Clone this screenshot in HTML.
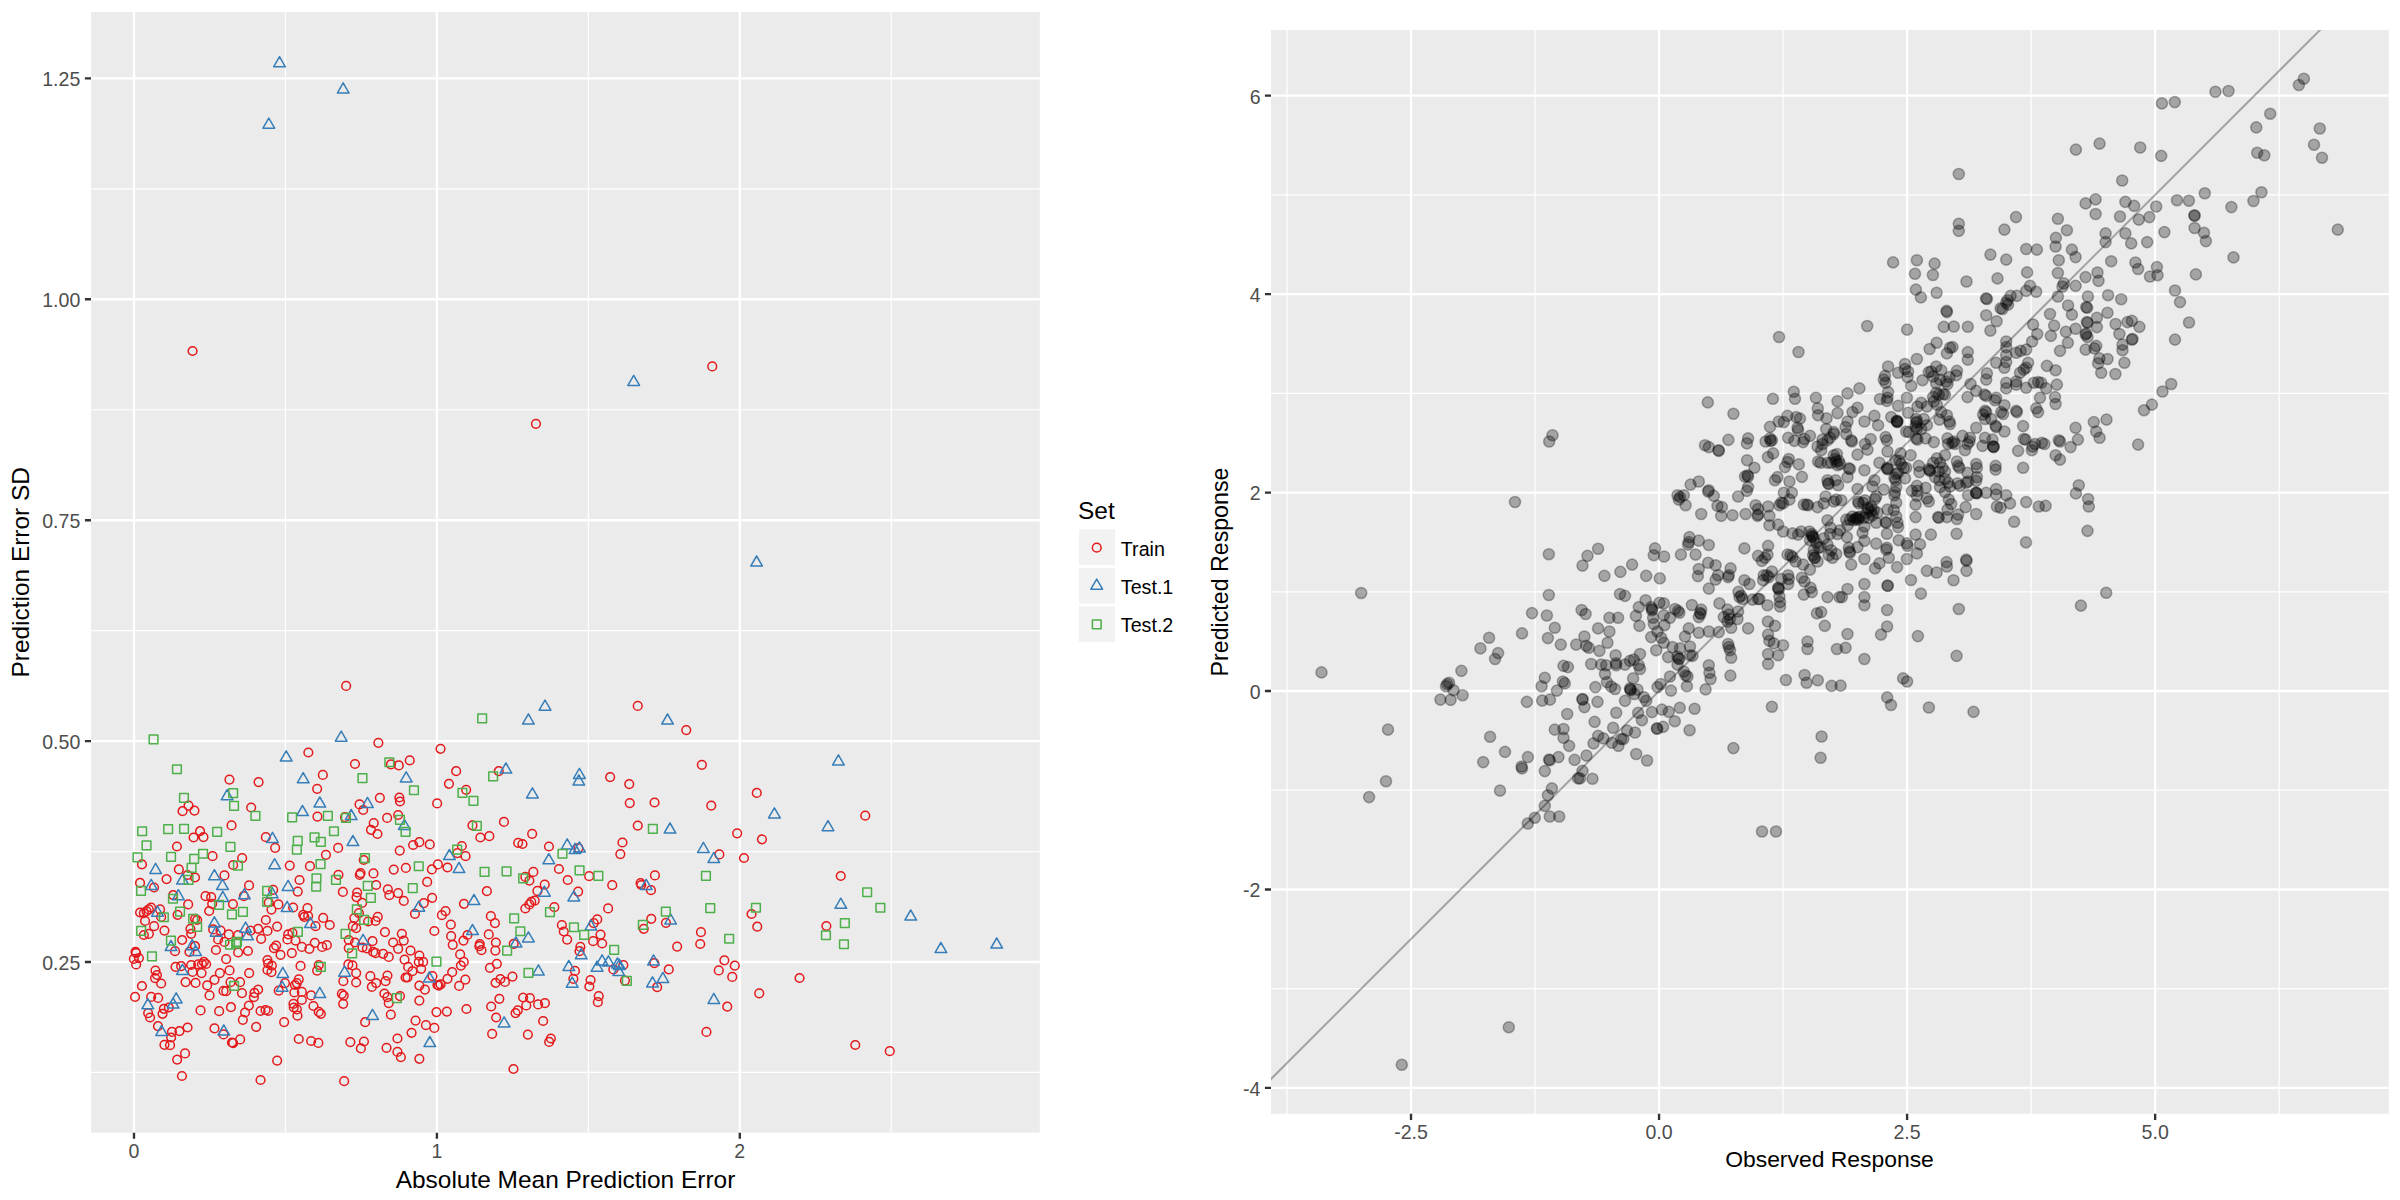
<!DOCTYPE html><html><head><meta charset="utf-8"><style>html,body{margin:0;padding:0;background:#fff}svg{display:block}text{font-family:"Liberation Sans",sans-serif}</style></head><body>
<svg width="2400" height="1200" viewBox="0 0 2400 1200">
<rect width="2400" height="1200" fill="#fff"/>
<rect x="91" y="12.1" width="948.8" height="1120.6000000000001" fill="#EBEBEB"/>
<path d="M285.45 12.1V1132.7M588.35 12.1V1132.7M891.25 12.1V1132.7M91 1072.45H1039.8M91 851.55H1039.8M91 630.65H1039.8M91 409.75H1039.8M91 188.85H1039.8" stroke="#fff" stroke-width="1.2" fill="none"/>
<path d="M134.00 12.1V1132.7M436.90 12.1V1132.7M739.80 12.1V1132.7M91 962.00H1039.8M91 741.10H1039.8M91 520.20H1039.8M91 299.30H1039.8M91 78.40H1039.8" stroke="#fff" stroke-width="2.37" fill="none"/>
<path d="M134.00 1132.7v6.1M436.90 1132.7v6.1M739.80 1132.7v6.1M91 962.00h-6.1M91 741.10h-6.1M91 520.20h-6.1M91 299.30h-6.1M91 78.40h-6.1" stroke="#333" stroke-width="2.37" fill="none"/>
<text x="80.3" y="969.8" font-size="19.56" fill="#4D4D4D" text-anchor="end">0.25</text>
<text x="80.3" y="748.9" font-size="19.56" fill="#4D4D4D" text-anchor="end">0.50</text>
<text x="80.3" y="528.0" font-size="19.56" fill="#4D4D4D" text-anchor="end">0.75</text>
<text x="80.3" y="307.1" font-size="19.56" fill="#4D4D4D" text-anchor="end">1.00</text>
<text x="80.3" y="86.2" font-size="19.56" fill="#4D4D4D" text-anchor="end">1.25</text>
<text x="134.0" y="1158" font-size="19.56" fill="#4D4D4D" text-anchor="middle">0</text>
<text x="436.9" y="1158" font-size="19.56" fill="#4D4D4D" text-anchor="middle">1</text>
<text x="739.8" y="1158" font-size="19.56" fill="#4D4D4D" text-anchor="middle">2</text>
<text x="565.5" y="1187.5" font-size="24.44" fill="#000" text-anchor="middle">Absolute Mean Prediction Error</text>
<text transform="translate(29,572.3) rotate(-90)" font-size="24.44" fill="#000" text-anchor="middle">Prediction Error SD</text>
<clipPath id="cl"><rect x="91" y="12.1" width="948.8" height="1120.6000000000001"/></clipPath>
<g clip-path="url(#cl)" fill="none" stroke-width="1.5" stroke-linejoin="round">
<path stroke="#E41A1C" d="M188.2 351.0a4.35 4.35 0 1 0 8.7 0a4.35 4.35 0 1 0 -8.7 0M531.6 423.8a4.35 4.35 0 1 0 8.7 0a4.35 4.35 0 1 0 -8.7 0M707.9 366.4a4.35 4.35 0 1 0 8.7 0a4.35 4.35 0 1 0 -8.7 0M633.4 705.9a4.35 4.35 0 1 0 8.7 0a4.35 4.35 0 1 0 -8.7 0M681.9 730.1a4.35 4.35 0 1 0 8.7 0a4.35 4.35 0 1 0 -8.7 0M341.8 685.9a4.35 4.35 0 1 0 8.7 0a4.35 4.35 0 1 0 -8.7 0M374.0 742.8a4.35 4.35 0 1 0 8.7 0a4.35 4.35 0 1 0 -8.7 0M304.0 752.5a4.35 4.35 0 1 0 8.7 0a4.35 4.35 0 1 0 -8.7 0M350.6 764.0a4.35 4.35 0 1 0 8.7 0a4.35 4.35 0 1 0 -8.7 0M405.4 760.4a4.35 4.35 0 1 0 8.7 0a4.35 4.35 0 1 0 -8.7 0M386.6 764.4a4.35 4.35 0 1 0 8.7 0a4.35 4.35 0 1 0 -8.7 0M394.4 765.4a4.35 4.35 0 1 0 8.7 0a4.35 4.35 0 1 0 -8.7 0M318.5 774.9a4.35 4.35 0 1 0 8.7 0a4.35 4.35 0 1 0 -8.7 0M225.1 779.6a4.35 4.35 0 1 0 8.7 0a4.35 4.35 0 1 0 -8.7 0M254.2 782.1a4.35 4.35 0 1 0 8.7 0a4.35 4.35 0 1 0 -8.7 0M312.8 788.8a4.35 4.35 0 1 0 8.7 0a4.35 4.35 0 1 0 -8.7 0M375.5 797.8a4.35 4.35 0 1 0 8.7 0a4.35 4.35 0 1 0 -8.7 0M395.0 797.5a4.35 4.35 0 1 0 8.7 0a4.35 4.35 0 1 0 -8.7 0M395.6 801.5a4.35 4.35 0 1 0 8.7 0a4.35 4.35 0 1 0 -8.7 0M355.2 804.4a4.35 4.35 0 1 0 8.7 0a4.35 4.35 0 1 0 -8.7 0M246.8 807.5a4.35 4.35 0 1 0 8.7 0a4.35 4.35 0 1 0 -8.7 0M184.2 805.6a4.35 4.35 0 1 0 8.7 0a4.35 4.35 0 1 0 -8.7 0M178.2 811.2a4.35 4.35 0 1 0 8.7 0a4.35 4.35 0 1 0 -8.7 0M190.1 810.6a4.35 4.35 0 1 0 8.7 0a4.35 4.35 0 1 0 -8.7 0M313.1 816.6a4.35 4.35 0 1 0 8.7 0a4.35 4.35 0 1 0 -8.7 0M340.6 817.2a4.35 4.35 0 1 0 8.7 0a4.35 4.35 0 1 0 -8.7 0M358.8 810.0a4.35 4.35 0 1 0 8.7 0a4.35 4.35 0 1 0 -8.7 0M382.8 817.9a4.35 4.35 0 1 0 8.7 0a4.35 4.35 0 1 0 -8.7 0M393.8 815.0a4.35 4.35 0 1 0 8.7 0a4.35 4.35 0 1 0 -8.7 0M227.2 825.4a4.35 4.35 0 1 0 8.7 0a4.35 4.35 0 1 0 -8.7 0M369.4 823.1a4.35 4.35 0 1 0 8.7 0a4.35 4.35 0 1 0 -8.7 0M195.7 831.2a4.35 4.35 0 1 0 8.7 0a4.35 4.35 0 1 0 -8.7 0M189.2 837.5a4.35 4.35 0 1 0 8.7 0a4.35 4.35 0 1 0 -8.7 0M199.1 837.1a4.35 4.35 0 1 0 8.7 0a4.35 4.35 0 1 0 -8.7 0M261.5 837.2a4.35 4.35 0 1 0 8.7 0a4.35 4.35 0 1 0 -8.7 0M366.6 829.8a4.35 4.35 0 1 0 8.7 0a4.35 4.35 0 1 0 -8.7 0M373.1 834.0a4.35 4.35 0 1 0 8.7 0a4.35 4.35 0 1 0 -8.7 0M172.6 846.5a4.35 4.35 0 1 0 8.7 0a4.35 4.35 0 1 0 -8.7 0M270.8 847.8a4.35 4.35 0 1 0 8.7 0a4.35 4.35 0 1 0 -8.7 0M333.8 847.9a4.35 4.35 0 1 0 8.7 0a4.35 4.35 0 1 0 -8.7 0M408.8 845.0a4.35 4.35 0 1 0 8.7 0a4.35 4.35 0 1 0 -8.7 0M415.0 842.2a4.35 4.35 0 1 0 8.7 0a4.35 4.35 0 1 0 -8.7 0M395.4 850.6a4.35 4.35 0 1 0 8.7 0a4.35 4.35 0 1 0 -8.7 0M208.2 856.2a4.35 4.35 0 1 0 8.7 0a4.35 4.35 0 1 0 -8.7 0M237.8 858.1a4.35 4.35 0 1 0 8.7 0a4.35 4.35 0 1 0 -8.7 0M321.6 854.8a4.35 4.35 0 1 0 8.7 0a4.35 4.35 0 1 0 -8.7 0M359.4 860.0a4.35 4.35 0 1 0 8.7 0a4.35 4.35 0 1 0 -8.7 0M137.6 864.4a4.35 4.35 0 1 0 8.7 0a4.35 4.35 0 1 0 -8.7 0M228.8 865.0a4.35 4.35 0 1 0 8.7 0a4.35 4.35 0 1 0 -8.7 0M285.4 865.6a4.35 4.35 0 1 0 8.7 0a4.35 4.35 0 1 0 -8.7 0M305.6 866.2a4.35 4.35 0 1 0 8.7 0a4.35 4.35 0 1 0 -8.7 0M174.5 869.4a4.35 4.35 0 1 0 8.7 0a4.35 4.35 0 1 0 -8.7 0M389.4 869.6a4.35 4.35 0 1 0 8.7 0a4.35 4.35 0 1 0 -8.7 0M401.5 867.9a4.35 4.35 0 1 0 8.7 0a4.35 4.35 0 1 0 -8.7 0M220.1 875.4a4.35 4.35 0 1 0 8.7 0a4.35 4.35 0 1 0 -8.7 0M334.1 874.8a4.35 4.35 0 1 0 8.7 0a4.35 4.35 0 1 0 -8.7 0M369.1 873.4a4.35 4.35 0 1 0 8.7 0a4.35 4.35 0 1 0 -8.7 0M356.2 873.1a4.35 4.35 0 1 0 8.7 0a4.35 4.35 0 1 0 -8.7 0M355.4 874.8a4.35 4.35 0 1 0 8.7 0a4.35 4.35 0 1 0 -8.7 0M190.7 877.5a4.35 4.35 0 1 0 8.7 0a4.35 4.35 0 1 0 -8.7 0M162.2 879.1a4.35 4.35 0 1 0 8.7 0a4.35 4.35 0 1 0 -8.7 0M183.2 875.0a4.35 4.35 0 1 0 8.7 0a4.35 4.35 0 1 0 -8.7 0M135.7 882.9a4.35 4.35 0 1 0 8.7 0a4.35 4.35 0 1 0 -8.7 0M295.2 880.0a4.35 4.35 0 1 0 8.7 0a4.35 4.35 0 1 0 -8.7 0M244.7 885.4a4.35 4.35 0 1 0 8.7 0a4.35 4.35 0 1 0 -8.7 0M149.7 887.5a4.35 4.35 0 1 0 8.7 0a4.35 4.35 0 1 0 -8.7 0M371.8 885.0a4.35 4.35 0 1 0 8.7 0a4.35 4.35 0 1 0 -8.7 0M268.8 889.8a4.35 4.35 0 1 0 8.7 0a4.35 4.35 0 1 0 -8.7 0M293.4 891.6a4.35 4.35 0 1 0 8.7 0a4.35 4.35 0 1 0 -8.7 0M338.5 891.9a4.35 4.35 0 1 0 8.7 0a4.35 4.35 0 1 0 -8.7 0M383.5 889.4a4.35 4.35 0 1 0 8.7 0a4.35 4.35 0 1 0 -8.7 0M352.8 892.5a4.35 4.35 0 1 0 8.7 0a4.35 4.35 0 1 0 -8.7 0M393.8 893.1a4.35 4.35 0 1 0 8.7 0a4.35 4.35 0 1 0 -8.7 0M168.8 895.2a4.35 4.35 0 1 0 8.7 0a4.35 4.35 0 1 0 -8.7 0M201.2 896.2a4.35 4.35 0 1 0 8.7 0a4.35 4.35 0 1 0 -8.7 0M206.8 897.2a4.35 4.35 0 1 0 8.7 0a4.35 4.35 0 1 0 -8.7 0M239.5 896.2a4.35 4.35 0 1 0 8.7 0a4.35 4.35 0 1 0 -8.7 0M352.2 897.2a4.35 4.35 0 1 0 8.7 0a4.35 4.35 0 1 0 -8.7 0M385.0 895.2a4.35 4.35 0 1 0 8.7 0a4.35 4.35 0 1 0 -8.7 0M399.4 900.9a4.35 4.35 0 1 0 8.7 0a4.35 4.35 0 1 0 -8.7 0M183.8 904.4a4.35 4.35 0 1 0 8.7 0a4.35 4.35 0 1 0 -8.7 0M207.8 903.8a4.35 4.35 0 1 0 8.7 0a4.35 4.35 0 1 0 -8.7 0M228.6 904.1a4.35 4.35 0 1 0 8.7 0a4.35 4.35 0 1 0 -8.7 0M264.4 902.5a4.35 4.35 0 1 0 8.7 0a4.35 4.35 0 1 0 -8.7 0M274.1 904.4a4.35 4.35 0 1 0 8.7 0a4.35 4.35 0 1 0 -8.7 0M267.1 909.6a4.35 4.35 0 1 0 8.7 0a4.35 4.35 0 1 0 -8.7 0M288.8 907.5a4.35 4.35 0 1 0 8.7 0a4.35 4.35 0 1 0 -8.7 0M303.1 908.1a4.35 4.35 0 1 0 8.7 0a4.35 4.35 0 1 0 -8.7 0M357.8 902.8a4.35 4.35 0 1 0 8.7 0a4.35 4.35 0 1 0 -8.7 0M204.8 911.0a4.35 4.35 0 1 0 8.7 0a4.35 4.35 0 1 0 -8.7 0M146.8 907.5a4.35 4.35 0 1 0 8.7 0a4.35 4.35 0 1 0 -8.7 0M155.7 909.4a4.35 4.35 0 1 0 8.7 0a4.35 4.35 0 1 0 -8.7 0M144.5 909.4a4.35 4.35 0 1 0 8.7 0a4.35 4.35 0 1 0 -8.7 0M142.2 911.2a4.35 4.35 0 1 0 8.7 0a4.35 4.35 0 1 0 -8.7 0M135.7 912.5a4.35 4.35 0 1 0 8.7 0a4.35 4.35 0 1 0 -8.7 0M139.5 913.1a4.35 4.35 0 1 0 8.7 0a4.35 4.35 0 1 0 -8.7 0M354.6 913.1a4.35 4.35 0 1 0 8.7 0a4.35 4.35 0 1 0 -8.7 0M410.6 913.8a4.35 4.35 0 1 0 8.7 0a4.35 4.35 0 1 0 -8.7 0M173.2 914.8a4.35 4.35 0 1 0 8.7 0a4.35 4.35 0 1 0 -8.7 0M156.8 916.9a4.35 4.35 0 1 0 8.7 0a4.35 4.35 0 1 0 -8.7 0M140.7 920.9a4.35 4.35 0 1 0 8.7 0a4.35 4.35 0 1 0 -8.7 0M190.7 918.8a4.35 4.35 0 1 0 8.7 0a4.35 4.35 0 1 0 -8.7 0M192.8 920.0a4.35 4.35 0 1 0 8.7 0a4.35 4.35 0 1 0 -8.7 0M261.5 920.0a4.35 4.35 0 1 0 8.7 0a4.35 4.35 0 1 0 -8.7 0M298.8 914.8a4.35 4.35 0 1 0 8.7 0a4.35 4.35 0 1 0 -8.7 0M303.8 916.0a4.35 4.35 0 1 0 8.7 0a4.35 4.35 0 1 0 -8.7 0M300.0 916.9a4.35 4.35 0 1 0 8.7 0a4.35 4.35 0 1 0 -8.7 0M318.8 917.9a4.35 4.35 0 1 0 8.7 0a4.35 4.35 0 1 0 -8.7 0M350.0 918.1a4.35 4.35 0 1 0 8.7 0a4.35 4.35 0 1 0 -8.7 0M373.4 916.9a4.35 4.35 0 1 0 8.7 0a4.35 4.35 0 1 0 -8.7 0M371.2 921.0a4.35 4.35 0 1 0 8.7 0a4.35 4.35 0 1 0 -8.7 0M363.8 921.5a4.35 4.35 0 1 0 8.7 0a4.35 4.35 0 1 0 -8.7 0M149.8 926.2a4.35 4.35 0 1 0 8.7 0a4.35 4.35 0 1 0 -8.7 0M272.8 926.6a4.35 4.35 0 1 0 8.7 0a4.35 4.35 0 1 0 -8.7 0M325.4 925.0a4.35 4.35 0 1 0 8.7 0a4.35 4.35 0 1 0 -8.7 0M311.2 926.2a4.35 4.35 0 1 0 8.7 0a4.35 4.35 0 1 0 -8.7 0M348.5 926.2a4.35 4.35 0 1 0 8.7 0a4.35 4.35 0 1 0 -8.7 0M351.8 928.1a4.35 4.35 0 1 0 8.7 0a4.35 4.35 0 1 0 -8.7 0M160.1 930.6a4.35 4.35 0 1 0 8.7 0a4.35 4.35 0 1 0 -8.7 0M186.1 928.8a4.35 4.35 0 1 0 8.7 0a4.35 4.35 0 1 0 -8.7 0M186.8 933.8a4.35 4.35 0 1 0 8.7 0a4.35 4.35 0 1 0 -8.7 0M208.8 929.4a4.35 4.35 0 1 0 8.7 0a4.35 4.35 0 1 0 -8.7 0M216.2 930.6a4.35 4.35 0 1 0 8.7 0a4.35 4.35 0 1 0 -8.7 0M253.8 928.8a4.35 4.35 0 1 0 8.7 0a4.35 4.35 0 1 0 -8.7 0M246.2 930.6a4.35 4.35 0 1 0 8.7 0a4.35 4.35 0 1 0 -8.7 0M263.1 930.9a4.35 4.35 0 1 0 8.7 0a4.35 4.35 0 1 0 -8.7 0M224.5 934.4a4.35 4.35 0 1 0 8.7 0a4.35 4.35 0 1 0 -8.7 0M233.8 935.0a4.35 4.35 0 1 0 8.7 0a4.35 4.35 0 1 0 -8.7 0M283.8 934.4a4.35 4.35 0 1 0 8.7 0a4.35 4.35 0 1 0 -8.7 0M288.1 932.8a4.35 4.35 0 1 0 8.7 0a4.35 4.35 0 1 0 -8.7 0M380.6 932.1a4.35 4.35 0 1 0 8.7 0a4.35 4.35 0 1 0 -8.7 0M397.5 933.8a4.35 4.35 0 1 0 8.7 0a4.35 4.35 0 1 0 -8.7 0M144.5 933.8a4.35 4.35 0 1 0 8.7 0a4.35 4.35 0 1 0 -8.7 0M139.5 935.0a4.35 4.35 0 1 0 8.7 0a4.35 4.35 0 1 0 -8.7 0M177.8 940.0a4.35 4.35 0 1 0 8.7 0a4.35 4.35 0 1 0 -8.7 0M190.7 946.2a4.35 4.35 0 1 0 8.7 0a4.35 4.35 0 1 0 -8.7 0M170.7 951.2a4.35 4.35 0 1 0 8.7 0a4.35 4.35 0 1 0 -8.7 0M185.1 951.9a4.35 4.35 0 1 0 8.7 0a4.35 4.35 0 1 0 -8.7 0M211.6 950.0a4.35 4.35 0 1 0 8.7 0a4.35 4.35 0 1 0 -8.7 0M213.8 939.4a4.35 4.35 0 1 0 8.7 0a4.35 4.35 0 1 0 -8.7 0M220.1 941.9a4.35 4.35 0 1 0 8.7 0a4.35 4.35 0 1 0 -8.7 0M256.8 938.8a4.35 4.35 0 1 0 8.7 0a4.35 4.35 0 1 0 -8.7 0M243.6 951.0a4.35 4.35 0 1 0 8.7 0a4.35 4.35 0 1 0 -8.7 0M233.8 952.5a4.35 4.35 0 1 0 8.7 0a4.35 4.35 0 1 0 -8.7 0M271.8 945.6a4.35 4.35 0 1 0 8.7 0a4.35 4.35 0 1 0 -8.7 0M269.6 948.1a4.35 4.35 0 1 0 8.7 0a4.35 4.35 0 1 0 -8.7 0M276.2 954.8a4.35 4.35 0 1 0 8.7 0a4.35 4.35 0 1 0 -8.7 0M283.1 939.4a4.35 4.35 0 1 0 8.7 0a4.35 4.35 0 1 0 -8.7 0M291.2 940.6a4.35 4.35 0 1 0 8.7 0a4.35 4.35 0 1 0 -8.7 0M287.5 953.1a4.35 4.35 0 1 0 8.7 0a4.35 4.35 0 1 0 -8.7 0M297.5 946.9a4.35 4.35 0 1 0 8.7 0a4.35 4.35 0 1 0 -8.7 0M305.0 948.8a4.35 4.35 0 1 0 8.7 0a4.35 4.35 0 1 0 -8.7 0M310.4 942.8a4.35 4.35 0 1 0 8.7 0a4.35 4.35 0 1 0 -8.7 0M317.8 946.9a4.35 4.35 0 1 0 8.7 0a4.35 4.35 0 1 0 -8.7 0M322.5 945.2a4.35 4.35 0 1 0 8.7 0a4.35 4.35 0 1 0 -8.7 0M344.4 940.0a4.35 4.35 0 1 0 8.7 0a4.35 4.35 0 1 0 -8.7 0M350.6 942.5a4.35 4.35 0 1 0 8.7 0a4.35 4.35 0 1 0 -8.7 0M344.4 948.1a4.35 4.35 0 1 0 8.7 0a4.35 4.35 0 1 0 -8.7 0M358.1 947.5a4.35 4.35 0 1 0 8.7 0a4.35 4.35 0 1 0 -8.7 0M362.5 948.5a4.35 4.35 0 1 0 8.7 0a4.35 4.35 0 1 0 -8.7 0M368.1 941.2a4.35 4.35 0 1 0 8.7 0a4.35 4.35 0 1 0 -8.7 0M368.8 951.9a4.35 4.35 0 1 0 8.7 0a4.35 4.35 0 1 0 -8.7 0M371.2 953.1a4.35 4.35 0 1 0 8.7 0a4.35 4.35 0 1 0 -8.7 0M378.8 953.8a4.35 4.35 0 1 0 8.7 0a4.35 4.35 0 1 0 -8.7 0M384.4 956.9a4.35 4.35 0 1 0 8.7 0a4.35 4.35 0 1 0 -8.7 0M388.8 942.5a4.35 4.35 0 1 0 8.7 0a4.35 4.35 0 1 0 -8.7 0M399.4 940.6a4.35 4.35 0 1 0 8.7 0a4.35 4.35 0 1 0 -8.7 0M393.8 948.8a4.35 4.35 0 1 0 8.7 0a4.35 4.35 0 1 0 -8.7 0M406.2 950.6a4.35 4.35 0 1 0 8.7 0a4.35 4.35 0 1 0 -8.7 0M131.2 951.9a4.35 4.35 0 1 0 8.7 0a4.35 4.35 0 1 0 -8.7 0M131.8 953.1a4.35 4.35 0 1 0 8.7 0a4.35 4.35 0 1 0 -8.7 0M134.5 958.1a4.35 4.35 0 1 0 8.7 0a4.35 4.35 0 1 0 -8.7 0M129.5 958.8a4.35 4.35 0 1 0 8.7 0a4.35 4.35 0 1 0 -8.7 0M131.8 964.4a4.35 4.35 0 1 0 8.7 0a4.35 4.35 0 1 0 -8.7 0M221.8 959.1a4.35 4.35 0 1 0 8.7 0a4.35 4.35 0 1 0 -8.7 0M263.1 960.0a4.35 4.35 0 1 0 8.7 0a4.35 4.35 0 1 0 -8.7 0M263.8 963.5a4.35 4.35 0 1 0 8.7 0a4.35 4.35 0 1 0 -8.7 0M267.5 965.6a4.35 4.35 0 1 0 8.7 0a4.35 4.35 0 1 0 -8.7 0M296.2 965.9a4.35 4.35 0 1 0 8.7 0a4.35 4.35 0 1 0 -8.7 0M314.4 965.0a4.35 4.35 0 1 0 8.7 0a4.35 4.35 0 1 0 -8.7 0M344.0 964.4a4.35 4.35 0 1 0 8.7 0a4.35 4.35 0 1 0 -8.7 0M348.1 965.4a4.35 4.35 0 1 0 8.7 0a4.35 4.35 0 1 0 -8.7 0M400.2 959.6a4.35 4.35 0 1 0 8.7 0a4.35 4.35 0 1 0 -8.7 0M403.8 966.9a4.35 4.35 0 1 0 8.7 0a4.35 4.35 0 1 0 -8.7 0M415.0 955.6a4.35 4.35 0 1 0 8.7 0a4.35 4.35 0 1 0 -8.7 0M414.4 961.9a4.35 4.35 0 1 0 8.7 0a4.35 4.35 0 1 0 -8.7 0M199.5 961.9a4.35 4.35 0 1 0 8.7 0a4.35 4.35 0 1 0 -8.7 0M201.8 964.0a4.35 4.35 0 1 0 8.7 0a4.35 4.35 0 1 0 -8.7 0M197.6 964.0a4.35 4.35 0 1 0 8.7 0a4.35 4.35 0 1 0 -8.7 0M193.8 964.4a4.35 4.35 0 1 0 8.7 0a4.35 4.35 0 1 0 -8.7 0M186.8 965.0a4.35 4.35 0 1 0 8.7 0a4.35 4.35 0 1 0 -8.7 0M171.2 966.9a4.35 4.35 0 1 0 8.7 0a4.35 4.35 0 1 0 -8.7 0M176.8 966.2a4.35 4.35 0 1 0 8.7 0a4.35 4.35 0 1 0 -8.7 0M151.1 970.6a4.35 4.35 0 1 0 8.7 0a4.35 4.35 0 1 0 -8.7 0M152.6 975.0a4.35 4.35 0 1 0 8.7 0a4.35 4.35 0 1 0 -8.7 0M150.7 978.1a4.35 4.35 0 1 0 8.7 0a4.35 4.35 0 1 0 -8.7 0M156.8 983.5a4.35 4.35 0 1 0 8.7 0a4.35 4.35 0 1 0 -8.7 0M137.6 986.0a4.35 4.35 0 1 0 8.7 0a4.35 4.35 0 1 0 -8.7 0M188.2 971.9a4.35 4.35 0 1 0 8.7 0a4.35 4.35 0 1 0 -8.7 0M197.2 973.1a4.35 4.35 0 1 0 8.7 0a4.35 4.35 0 1 0 -8.7 0M181.2 982.1a4.35 4.35 0 1 0 8.7 0a4.35 4.35 0 1 0 -8.7 0M191.2 982.9a4.35 4.35 0 1 0 8.7 0a4.35 4.35 0 1 0 -8.7 0M202.8 985.4a4.35 4.35 0 1 0 8.7 0a4.35 4.35 0 1 0 -8.7 0M210.1 979.8a4.35 4.35 0 1 0 8.7 0a4.35 4.35 0 1 0 -8.7 0M215.5 973.1a4.35 4.35 0 1 0 8.7 0a4.35 4.35 0 1 0 -8.7 0M225.2 970.4a4.35 4.35 0 1 0 8.7 0a4.35 4.35 0 1 0 -8.7 0M244.8 973.1a4.35 4.35 0 1 0 8.7 0a4.35 4.35 0 1 0 -8.7 0M226.2 982.2a4.35 4.35 0 1 0 8.7 0a4.35 4.35 0 1 0 -8.7 0M235.7 982.2a4.35 4.35 0 1 0 8.7 0a4.35 4.35 0 1 0 -8.7 0M263.1 970.0a4.35 4.35 0 1 0 8.7 0a4.35 4.35 0 1 0 -8.7 0M267.1 972.2a4.35 4.35 0 1 0 8.7 0a4.35 4.35 0 1 0 -8.7 0M280.6 983.1a4.35 4.35 0 1 0 8.7 0a4.35 4.35 0 1 0 -8.7 0M294.4 979.4a4.35 4.35 0 1 0 8.7 0a4.35 4.35 0 1 0 -8.7 0M292.5 983.1a4.35 4.35 0 1 0 8.7 0a4.35 4.35 0 1 0 -8.7 0M290.6 985.0a4.35 4.35 0 1 0 8.7 0a4.35 4.35 0 1 0 -8.7 0M312.8 970.6a4.35 4.35 0 1 0 8.7 0a4.35 4.35 0 1 0 -8.7 0M351.8 973.1a4.35 4.35 0 1 0 8.7 0a4.35 4.35 0 1 0 -8.7 0M339.0 981.2a4.35 4.35 0 1 0 8.7 0a4.35 4.35 0 1 0 -8.7 0M351.8 982.5a4.35 4.35 0 1 0 8.7 0a4.35 4.35 0 1 0 -8.7 0M366.0 976.2a4.35 4.35 0 1 0 8.7 0a4.35 4.35 0 1 0 -8.7 0M371.8 983.1a4.35 4.35 0 1 0 8.7 0a4.35 4.35 0 1 0 -8.7 0M367.5 986.9a4.35 4.35 0 1 0 8.7 0a4.35 4.35 0 1 0 -8.7 0M383.1 975.6a4.35 4.35 0 1 0 8.7 0a4.35 4.35 0 1 0 -8.7 0M381.2 981.2a4.35 4.35 0 1 0 8.7 0a4.35 4.35 0 1 0 -8.7 0M401.2 977.5a4.35 4.35 0 1 0 8.7 0a4.35 4.35 0 1 0 -8.7 0M403.1 977.5a4.35 4.35 0 1 0 8.7 0a4.35 4.35 0 1 0 -8.7 0M408.1 971.2a4.35 4.35 0 1 0 8.7 0a4.35 4.35 0 1 0 -8.7 0M219.2 990.9a4.35 4.35 0 1 0 8.7 0a4.35 4.35 0 1 0 -8.7 0M221.8 991.2a4.35 4.35 0 1 0 8.7 0a4.35 4.35 0 1 0 -8.7 0M237.6 993.1a4.35 4.35 0 1 0 8.7 0a4.35 4.35 0 1 0 -8.7 0M253.8 989.6a4.35 4.35 0 1 0 8.7 0a4.35 4.35 0 1 0 -8.7 0M250.1 992.8a4.35 4.35 0 1 0 8.7 0a4.35 4.35 0 1 0 -8.7 0M249.5 997.2a4.35 4.35 0 1 0 8.7 0a4.35 4.35 0 1 0 -8.7 0M205.2 995.4a4.35 4.35 0 1 0 8.7 0a4.35 4.35 0 1 0 -8.7 0M130.7 996.9a4.35 4.35 0 1 0 8.7 0a4.35 4.35 0 1 0 -8.7 0M146.8 996.9a4.35 4.35 0 1 0 8.7 0a4.35 4.35 0 1 0 -8.7 0M153.8 997.9a4.35 4.35 0 1 0 8.7 0a4.35 4.35 0 1 0 -8.7 0M274.4 990.6a4.35 4.35 0 1 0 8.7 0a4.35 4.35 0 1 0 -8.7 0M290.0 992.5a4.35 4.35 0 1 0 8.7 0a4.35 4.35 0 1 0 -8.7 0M297.5 991.9a4.35 4.35 0 1 0 8.7 0a4.35 4.35 0 1 0 -8.7 0M306.8 995.4a4.35 4.35 0 1 0 8.7 0a4.35 4.35 0 1 0 -8.7 0M297.5 1000.0a4.35 4.35 0 1 0 8.7 0a4.35 4.35 0 1 0 -8.7 0M289.1 1003.8a4.35 4.35 0 1 0 8.7 0a4.35 4.35 0 1 0 -8.7 0M337.5 993.8a4.35 4.35 0 1 0 8.7 0a4.35 4.35 0 1 0 -8.7 0M339.4 995.6a4.35 4.35 0 1 0 8.7 0a4.35 4.35 0 1 0 -8.7 0M338.8 1003.8a4.35 4.35 0 1 0 8.7 0a4.35 4.35 0 1 0 -8.7 0M380.0 993.5a4.35 4.35 0 1 0 8.7 0a4.35 4.35 0 1 0 -8.7 0M383.1 997.2a4.35 4.35 0 1 0 8.7 0a4.35 4.35 0 1 0 -8.7 0M384.4 1003.1a4.35 4.35 0 1 0 8.7 0a4.35 4.35 0 1 0 -8.7 0M395.6 996.2a4.35 4.35 0 1 0 8.7 0a4.35 4.35 0 1 0 -8.7 0M415.0 985.6a4.35 4.35 0 1 0 8.7 0a4.35 4.35 0 1 0 -8.7 0M415.0 1000.6a4.35 4.35 0 1 0 8.7 0a4.35 4.35 0 1 0 -8.7 0M159.5 1008.8a4.35 4.35 0 1 0 8.7 0a4.35 4.35 0 1 0 -8.7 0M164.5 1007.5a4.35 4.35 0 1 0 8.7 0a4.35 4.35 0 1 0 -8.7 0M158.2 1013.8a4.35 4.35 0 1 0 8.7 0a4.35 4.35 0 1 0 -8.7 0M143.8 1013.1a4.35 4.35 0 1 0 8.7 0a4.35 4.35 0 1 0 -8.7 0M145.7 1017.5a4.35 4.35 0 1 0 8.7 0a4.35 4.35 0 1 0 -8.7 0M196.2 1010.4a4.35 4.35 0 1 0 8.7 0a4.35 4.35 0 1 0 -8.7 0M214.8 1011.2a4.35 4.35 0 1 0 8.7 0a4.35 4.35 0 1 0 -8.7 0M226.6 1007.2a4.35 4.35 0 1 0 8.7 0a4.35 4.35 0 1 0 -8.7 0M244.5 1005.6a4.35 4.35 0 1 0 8.7 0a4.35 4.35 0 1 0 -8.7 0M240.7 1012.5a4.35 4.35 0 1 0 8.7 0a4.35 4.35 0 1 0 -8.7 0M238.5 1019.8a4.35 4.35 0 1 0 8.7 0a4.35 4.35 0 1 0 -8.7 0M256.2 1011.0a4.35 4.35 0 1 0 8.7 0a4.35 4.35 0 1 0 -8.7 0M261.2 1010.0a4.35 4.35 0 1 0 8.7 0a4.35 4.35 0 1 0 -8.7 0M263.8 1011.0a4.35 4.35 0 1 0 8.7 0a4.35 4.35 0 1 0 -8.7 0M289.4 1007.5a4.35 4.35 0 1 0 8.7 0a4.35 4.35 0 1 0 -8.7 0M292.5 1009.4a4.35 4.35 0 1 0 8.7 0a4.35 4.35 0 1 0 -8.7 0M293.1 1015.6a4.35 4.35 0 1 0 8.7 0a4.35 4.35 0 1 0 -8.7 0M309.1 1006.0a4.35 4.35 0 1 0 8.7 0a4.35 4.35 0 1 0 -8.7 0M314.4 1011.9a4.35 4.35 0 1 0 8.7 0a4.35 4.35 0 1 0 -8.7 0M316.5 1013.8a4.35 4.35 0 1 0 8.7 0a4.35 4.35 0 1 0 -8.7 0M279.8 1022.1a4.35 4.35 0 1 0 8.7 0a4.35 4.35 0 1 0 -8.7 0M386.5 1014.6a4.35 4.35 0 1 0 8.7 0a4.35 4.35 0 1 0 -8.7 0M360.8 1022.2a4.35 4.35 0 1 0 8.7 0a4.35 4.35 0 1 0 -8.7 0M411.2 1020.6a4.35 4.35 0 1 0 8.7 0a4.35 4.35 0 1 0 -8.7 0M153.6 1026.2a4.35 4.35 0 1 0 8.7 0a4.35 4.35 0 1 0 -8.7 0M183.2 1027.5a4.35 4.35 0 1 0 8.7 0a4.35 4.35 0 1 0 -8.7 0M175.1 1031.2a4.35 4.35 0 1 0 8.7 0a4.35 4.35 0 1 0 -8.7 0M167.6 1031.9a4.35 4.35 0 1 0 8.7 0a4.35 4.35 0 1 0 -8.7 0M166.8 1037.5a4.35 4.35 0 1 0 8.7 0a4.35 4.35 0 1 0 -8.7 0M210.1 1028.4a4.35 4.35 0 1 0 8.7 0a4.35 4.35 0 1 0 -8.7 0M219.2 1034.4a4.35 4.35 0 1 0 8.7 0a4.35 4.35 0 1 0 -8.7 0M251.8 1026.9a4.35 4.35 0 1 0 8.7 0a4.35 4.35 0 1 0 -8.7 0M235.8 1039.4a4.35 4.35 0 1 0 8.7 0a4.35 4.35 0 1 0 -8.7 0M227.6 1042.5a4.35 4.35 0 1 0 8.7 0a4.35 4.35 0 1 0 -8.7 0M228.8 1043.1a4.35 4.35 0 1 0 8.7 0a4.35 4.35 0 1 0 -8.7 0M160.1 1044.8a4.35 4.35 0 1 0 8.7 0a4.35 4.35 0 1 0 -8.7 0M165.7 1045.2a4.35 4.35 0 1 0 8.7 0a4.35 4.35 0 1 0 -8.7 0M294.4 1039.0a4.35 4.35 0 1 0 8.7 0a4.35 4.35 0 1 0 -8.7 0M306.8 1041.0a4.35 4.35 0 1 0 8.7 0a4.35 4.35 0 1 0 -8.7 0M314.0 1042.9a4.35 4.35 0 1 0 8.7 0a4.35 4.35 0 1 0 -8.7 0M346.0 1042.1a4.35 4.35 0 1 0 8.7 0a4.35 4.35 0 1 0 -8.7 0M359.6 1041.5a4.35 4.35 0 1 0 8.7 0a4.35 4.35 0 1 0 -8.7 0M356.5 1048.4a4.35 4.35 0 1 0 8.7 0a4.35 4.35 0 1 0 -8.7 0M382.2 1047.8a4.35 4.35 0 1 0 8.7 0a4.35 4.35 0 1 0 -8.7 0M393.1 1038.5a4.35 4.35 0 1 0 8.7 0a4.35 4.35 0 1 0 -8.7 0M407.2 1032.8a4.35 4.35 0 1 0 8.7 0a4.35 4.35 0 1 0 -8.7 0M393.1 1051.9a4.35 4.35 0 1 0 8.7 0a4.35 4.35 0 1 0 -8.7 0M180.7 1053.4a4.35 4.35 0 1 0 8.7 0a4.35 4.35 0 1 0 -8.7 0M172.8 1059.6a4.35 4.35 0 1 0 8.7 0a4.35 4.35 0 1 0 -8.7 0M272.8 1060.6a4.35 4.35 0 1 0 8.7 0a4.35 4.35 0 1 0 -8.7 0M396.5 1057.2a4.35 4.35 0 1 0 8.7 0a4.35 4.35 0 1 0 -8.7 0M415.0 1058.8a4.35 4.35 0 1 0 8.7 0a4.35 4.35 0 1 0 -8.7 0M177.6 1076.0a4.35 4.35 0 1 0 8.7 0a4.35 4.35 0 1 0 -8.7 0M256.2 1080.0a4.35 4.35 0 1 0 8.7 0a4.35 4.35 0 1 0 -8.7 0M339.8 1081.2a4.35 4.35 0 1 0 8.7 0a4.35 4.35 0 1 0 -8.7 0M436.2 748.8a4.35 4.35 0 1 0 8.7 0a4.35 4.35 0 1 0 -8.7 0M451.8 771.2a4.35 4.35 0 1 0 8.7 0a4.35 4.35 0 1 0 -8.7 0M494.4 771.2a4.35 4.35 0 1 0 8.7 0a4.35 4.35 0 1 0 -8.7 0M444.6 783.8a4.35 4.35 0 1 0 8.7 0a4.35 4.35 0 1 0 -8.7 0M461.8 789.8a4.35 4.35 0 1 0 8.7 0a4.35 4.35 0 1 0 -8.7 0M432.8 803.4a4.35 4.35 0 1 0 8.7 0a4.35 4.35 0 1 0 -8.7 0M605.8 777.1a4.35 4.35 0 1 0 8.7 0a4.35 4.35 0 1 0 -8.7 0M624.9 784.1a4.35 4.35 0 1 0 8.7 0a4.35 4.35 0 1 0 -8.7 0M697.5 764.8a4.35 4.35 0 1 0 8.7 0a4.35 4.35 0 1 0 -8.7 0M625.4 803.1a4.35 4.35 0 1 0 8.7 0a4.35 4.35 0 1 0 -8.7 0M650.2 802.5a4.35 4.35 0 1 0 8.7 0a4.35 4.35 0 1 0 -8.7 0M706.9 805.6a4.35 4.35 0 1 0 8.7 0a4.35 4.35 0 1 0 -8.7 0M499.6 821.9a4.35 4.35 0 1 0 8.7 0a4.35 4.35 0 1 0 -8.7 0M468.1 825.4a4.35 4.35 0 1 0 8.7 0a4.35 4.35 0 1 0 -8.7 0M476.0 837.5a4.35 4.35 0 1 0 8.7 0a4.35 4.35 0 1 0 -8.7 0M485.0 836.2a4.35 4.35 0 1 0 8.7 0a4.35 4.35 0 1 0 -8.7 0M527.8 833.8a4.35 4.35 0 1 0 8.7 0a4.35 4.35 0 1 0 -8.7 0M633.4 825.6a4.35 4.35 0 1 0 8.7 0a4.35 4.35 0 1 0 -8.7 0M618.1 842.5a4.35 4.35 0 1 0 8.7 0a4.35 4.35 0 1 0 -8.7 0M513.8 842.8a4.35 4.35 0 1 0 8.7 0a4.35 4.35 0 1 0 -8.7 0M518.1 844.0a4.35 4.35 0 1 0 8.7 0a4.35 4.35 0 1 0 -8.7 0M544.6 846.5a4.35 4.35 0 1 0 8.7 0a4.35 4.35 0 1 0 -8.7 0M425.4 844.4a4.35 4.35 0 1 0 8.7 0a4.35 4.35 0 1 0 -8.7 0M457.5 846.0a4.35 4.35 0 1 0 8.7 0a4.35 4.35 0 1 0 -8.7 0M453.1 853.1a4.35 4.35 0 1 0 8.7 0a4.35 4.35 0 1 0 -8.7 0M461.2 856.2a4.35 4.35 0 1 0 8.7 0a4.35 4.35 0 1 0 -8.7 0M574.1 848.1a4.35 4.35 0 1 0 8.7 0a4.35 4.35 0 1 0 -8.7 0M616.0 854.1a4.35 4.35 0 1 0 8.7 0a4.35 4.35 0 1 0 -8.7 0M715.0 854.4a4.35 4.35 0 1 0 8.7 0a4.35 4.35 0 1 0 -8.7 0M433.5 864.4a4.35 4.35 0 1 0 8.7 0a4.35 4.35 0 1 0 -8.7 0M427.5 869.4a4.35 4.35 0 1 0 8.7 0a4.35 4.35 0 1 0 -8.7 0M443.1 867.5a4.35 4.35 0 1 0 8.7 0a4.35 4.35 0 1 0 -8.7 0M422.8 881.9a4.35 4.35 0 1 0 8.7 0a4.35 4.35 0 1 0 -8.7 0M529.0 871.9a4.35 4.35 0 1 0 8.7 0a4.35 4.35 0 1 0 -8.7 0M521.0 876.9a4.35 4.35 0 1 0 8.7 0a4.35 4.35 0 1 0 -8.7 0M525.0 880.6a4.35 4.35 0 1 0 8.7 0a4.35 4.35 0 1 0 -8.7 0M554.6 869.0a4.35 4.35 0 1 0 8.7 0a4.35 4.35 0 1 0 -8.7 0M563.4 880.0a4.35 4.35 0 1 0 8.7 0a4.35 4.35 0 1 0 -8.7 0M584.8 876.2a4.35 4.35 0 1 0 8.7 0a4.35 4.35 0 1 0 -8.7 0M607.9 885.2a4.35 4.35 0 1 0 8.7 0a4.35 4.35 0 1 0 -8.7 0M540.4 884.6a4.35 4.35 0 1 0 8.7 0a4.35 4.35 0 1 0 -8.7 0M650.6 875.4a4.35 4.35 0 1 0 8.7 0a4.35 4.35 0 1 0 -8.7 0M636.2 883.1a4.35 4.35 0 1 0 8.7 0a4.35 4.35 0 1 0 -8.7 0M636.9 885.0a4.35 4.35 0 1 0 8.7 0a4.35 4.35 0 1 0 -8.7 0M646.6 890.2a4.35 4.35 0 1 0 8.7 0a4.35 4.35 0 1 0 -8.7 0M482.5 891.2a4.35 4.35 0 1 0 8.7 0a4.35 4.35 0 1 0 -8.7 0M533.1 890.9a4.35 4.35 0 1 0 8.7 0a4.35 4.35 0 1 0 -8.7 0M573.8 891.6a4.35 4.35 0 1 0 8.7 0a4.35 4.35 0 1 0 -8.7 0M427.8 897.8a4.35 4.35 0 1 0 8.7 0a4.35 4.35 0 1 0 -8.7 0M419.4 903.1a4.35 4.35 0 1 0 8.7 0a4.35 4.35 0 1 0 -8.7 0M459.6 903.8a4.35 4.35 0 1 0 8.7 0a4.35 4.35 0 1 0 -8.7 0M530.4 900.6a4.35 4.35 0 1 0 8.7 0a4.35 4.35 0 1 0 -8.7 0M526.9 901.9a4.35 4.35 0 1 0 8.7 0a4.35 4.35 0 1 0 -8.7 0M525.0 904.4a4.35 4.35 0 1 0 8.7 0a4.35 4.35 0 1 0 -8.7 0M521.0 908.5a4.35 4.35 0 1 0 8.7 0a4.35 4.35 0 1 0 -8.7 0M550.0 907.2a4.35 4.35 0 1 0 8.7 0a4.35 4.35 0 1 0 -8.7 0M603.8 908.4a4.35 4.35 0 1 0 8.7 0a4.35 4.35 0 1 0 -8.7 0M441.2 911.2a4.35 4.35 0 1 0 8.7 0a4.35 4.35 0 1 0 -8.7 0M437.5 915.2a4.35 4.35 0 1 0 8.7 0a4.35 4.35 0 1 0 -8.7 0M486.5 916.2a4.35 4.35 0 1 0 8.7 0a4.35 4.35 0 1 0 -8.7 0M490.6 923.1a4.35 4.35 0 1 0 8.7 0a4.35 4.35 0 1 0 -8.7 0M446.5 924.6a4.35 4.35 0 1 0 8.7 0a4.35 4.35 0 1 0 -8.7 0M430.0 931.0a4.35 4.35 0 1 0 8.7 0a4.35 4.35 0 1 0 -8.7 0M592.9 919.4a4.35 4.35 0 1 0 8.7 0a4.35 4.35 0 1 0 -8.7 0M589.4 923.1a4.35 4.35 0 1 0 8.7 0a4.35 4.35 0 1 0 -8.7 0M557.5 925.0a4.35 4.35 0 1 0 8.7 0a4.35 4.35 0 1 0 -8.7 0M559.4 931.5a4.35 4.35 0 1 0 8.7 0a4.35 4.35 0 1 0 -8.7 0M596.2 934.6a4.35 4.35 0 1 0 8.7 0a4.35 4.35 0 1 0 -8.7 0M646.9 918.8a4.35 4.35 0 1 0 8.7 0a4.35 4.35 0 1 0 -8.7 0M661.6 922.8a4.35 4.35 0 1 0 8.7 0a4.35 4.35 0 1 0 -8.7 0M639.4 928.8a4.35 4.35 0 1 0 8.7 0a4.35 4.35 0 1 0 -8.7 0M696.6 932.2a4.35 4.35 0 1 0 8.7 0a4.35 4.35 0 1 0 -8.7 0M484.4 934.4a4.35 4.35 0 1 0 8.7 0a4.35 4.35 0 1 0 -8.7 0M463.1 935.0a4.35 4.35 0 1 0 8.7 0a4.35 4.35 0 1 0 -8.7 0M446.8 936.2a4.35 4.35 0 1 0 8.7 0a4.35 4.35 0 1 0 -8.7 0M448.4 944.8a4.35 4.35 0 1 0 8.7 0a4.35 4.35 0 1 0 -8.7 0M459.1 940.6a4.35 4.35 0 1 0 8.7 0a4.35 4.35 0 1 0 -8.7 0M475.4 944.0a4.35 4.35 0 1 0 8.7 0a4.35 4.35 0 1 0 -8.7 0M475.0 946.2a4.35 4.35 0 1 0 8.7 0a4.35 4.35 0 1 0 -8.7 0M477.1 950.2a4.35 4.35 0 1 0 8.7 0a4.35 4.35 0 1 0 -8.7 0M491.5 942.5a4.35 4.35 0 1 0 8.7 0a4.35 4.35 0 1 0 -8.7 0M491.0 950.6a4.35 4.35 0 1 0 8.7 0a4.35 4.35 0 1 0 -8.7 0M509.4 943.8a4.35 4.35 0 1 0 8.7 0a4.35 4.35 0 1 0 -8.7 0M562.8 939.6a4.35 4.35 0 1 0 8.7 0a4.35 4.35 0 1 0 -8.7 0M576.0 946.9a4.35 4.35 0 1 0 8.7 0a4.35 4.35 0 1 0 -8.7 0M575.2 951.2a4.35 4.35 0 1 0 8.7 0a4.35 4.35 0 1 0 -8.7 0M588.8 941.2a4.35 4.35 0 1 0 8.7 0a4.35 4.35 0 1 0 -8.7 0M597.8 943.5a4.35 4.35 0 1 0 8.7 0a4.35 4.35 0 1 0 -8.7 0M672.8 946.6a4.35 4.35 0 1 0 8.7 0a4.35 4.35 0 1 0 -8.7 0M695.9 944.0a4.35 4.35 0 1 0 8.7 0a4.35 4.35 0 1 0 -8.7 0M455.8 954.4a4.35 4.35 0 1 0 8.7 0a4.35 4.35 0 1 0 -8.7 0M418.8 961.9a4.35 4.35 0 1 0 8.7 0a4.35 4.35 0 1 0 -8.7 0M459.4 961.9a4.35 4.35 0 1 0 8.7 0a4.35 4.35 0 1 0 -8.7 0M456.5 965.6a4.35 4.35 0 1 0 8.7 0a4.35 4.35 0 1 0 -8.7 0M492.5 963.8a4.35 4.35 0 1 0 8.7 0a4.35 4.35 0 1 0 -8.7 0M485.6 967.8a4.35 4.35 0 1 0 8.7 0a4.35 4.35 0 1 0 -8.7 0M447.8 972.2a4.35 4.35 0 1 0 8.7 0a4.35 4.35 0 1 0 -8.7 0M570.6 970.9a4.35 4.35 0 1 0 8.7 0a4.35 4.35 0 1 0 -8.7 0M619.0 965.0a4.35 4.35 0 1 0 8.7 0a4.35 4.35 0 1 0 -8.7 0M609.0 969.4a4.35 4.35 0 1 0 8.7 0a4.35 4.35 0 1 0 -8.7 0M650.0 963.1a4.35 4.35 0 1 0 8.7 0a4.35 4.35 0 1 0 -8.7 0M664.4 969.4a4.35 4.35 0 1 0 8.7 0a4.35 4.35 0 1 0 -8.7 0M714.4 970.4a4.35 4.35 0 1 0 8.7 0a4.35 4.35 0 1 0 -8.7 0M416.8 968.8a4.35 4.35 0 1 0 8.7 0a4.35 4.35 0 1 0 -8.7 0M428.1 976.2a4.35 4.35 0 1 0 8.7 0a4.35 4.35 0 1 0 -8.7 0M443.1 978.8a4.35 4.35 0 1 0 8.7 0a4.35 4.35 0 1 0 -8.7 0M461.0 979.6a4.35 4.35 0 1 0 8.7 0a4.35 4.35 0 1 0 -8.7 0M454.8 985.9a4.35 4.35 0 1 0 8.7 0a4.35 4.35 0 1 0 -8.7 0M436.2 984.4a4.35 4.35 0 1 0 8.7 0a4.35 4.35 0 1 0 -8.7 0M434.4 985.6a4.35 4.35 0 1 0 8.7 0a4.35 4.35 0 1 0 -8.7 0M433.1 985.0a4.35 4.35 0 1 0 8.7 0a4.35 4.35 0 1 0 -8.7 0M420.6 989.6a4.35 4.35 0 1 0 8.7 0a4.35 4.35 0 1 0 -8.7 0M508.1 976.6a4.35 4.35 0 1 0 8.7 0a4.35 4.35 0 1 0 -8.7 0M496.0 979.0a4.35 4.35 0 1 0 8.7 0a4.35 4.35 0 1 0 -8.7 0M500.6 981.9a4.35 4.35 0 1 0 8.7 0a4.35 4.35 0 1 0 -8.7 0M491.2 982.8a4.35 4.35 0 1 0 8.7 0a4.35 4.35 0 1 0 -8.7 0M569.0 978.8a4.35 4.35 0 1 0 8.7 0a4.35 4.35 0 1 0 -8.7 0M586.2 980.0a4.35 4.35 0 1 0 8.7 0a4.35 4.35 0 1 0 -8.7 0M585.0 986.5a4.35 4.35 0 1 0 8.7 0a4.35 4.35 0 1 0 -8.7 0M620.6 980.6a4.35 4.35 0 1 0 8.7 0a4.35 4.35 0 1 0 -8.7 0M652.8 987.2a4.35 4.35 0 1 0 8.7 0a4.35 4.35 0 1 0 -8.7 0M495.0 998.8a4.35 4.35 0 1 0 8.7 0a4.35 4.35 0 1 0 -8.7 0M518.8 997.5a4.35 4.35 0 1 0 8.7 0a4.35 4.35 0 1 0 -8.7 0M525.6 998.1a4.35 4.35 0 1 0 8.7 0a4.35 4.35 0 1 0 -8.7 0M521.9 1005.4a4.35 4.35 0 1 0 8.7 0a4.35 4.35 0 1 0 -8.7 0M533.8 1004.4a4.35 4.35 0 1 0 8.7 0a4.35 4.35 0 1 0 -8.7 0M540.6 1003.1a4.35 4.35 0 1 0 8.7 0a4.35 4.35 0 1 0 -8.7 0M486.8 1006.5a4.35 4.35 0 1 0 8.7 0a4.35 4.35 0 1 0 -8.7 0M462.1 1009.0a4.35 4.35 0 1 0 8.7 0a4.35 4.35 0 1 0 -8.7 0M442.5 1011.6a4.35 4.35 0 1 0 8.7 0a4.35 4.35 0 1 0 -8.7 0M432.1 1012.1a4.35 4.35 0 1 0 8.7 0a4.35 4.35 0 1 0 -8.7 0M513.4 1010.4a4.35 4.35 0 1 0 8.7 0a4.35 4.35 0 1 0 -8.7 0M511.2 1013.1a4.35 4.35 0 1 0 8.7 0a4.35 4.35 0 1 0 -8.7 0M594.4 996.2a4.35 4.35 0 1 0 8.7 0a4.35 4.35 0 1 0 -8.7 0M593.5 1002.2a4.35 4.35 0 1 0 8.7 0a4.35 4.35 0 1 0 -8.7 0M491.8 1017.5a4.35 4.35 0 1 0 8.7 0a4.35 4.35 0 1 0 -8.7 0M538.8 1021.0a4.35 4.35 0 1 0 8.7 0a4.35 4.35 0 1 0 -8.7 0M421.6 1025.2a4.35 4.35 0 1 0 8.7 0a4.35 4.35 0 1 0 -8.7 0M430.0 1027.9a4.35 4.35 0 1 0 8.7 0a4.35 4.35 0 1 0 -8.7 0M487.8 1033.8a4.35 4.35 0 1 0 8.7 0a4.35 4.35 0 1 0 -8.7 0M523.5 1034.6a4.35 4.35 0 1 0 8.7 0a4.35 4.35 0 1 0 -8.7 0M546.5 1038.5a4.35 4.35 0 1 0 8.7 0a4.35 4.35 0 1 0 -8.7 0M544.8 1041.9a4.35 4.35 0 1 0 8.7 0a4.35 4.35 0 1 0 -8.7 0M702.1 1031.9a4.35 4.35 0 1 0 8.7 0a4.35 4.35 0 1 0 -8.7 0M509.1 1069.0a4.35 4.35 0 1 0 8.7 0a4.35 4.35 0 1 0 -8.7 0M752.4 792.9a4.35 4.35 0 1 0 8.7 0a4.35 4.35 0 1 0 -8.7 0M860.9 815.7a4.35 4.35 0 1 0 8.7 0a4.35 4.35 0 1 0 -8.7 0M732.8 833.3a4.35 4.35 0 1 0 8.7 0a4.35 4.35 0 1 0 -8.7 0M757.6 839.3a4.35 4.35 0 1 0 8.7 0a4.35 4.35 0 1 0 -8.7 0M739.6 858.0a4.35 4.35 0 1 0 8.7 0a4.35 4.35 0 1 0 -8.7 0M836.4 876.0a4.35 4.35 0 1 0 8.7 0a4.35 4.35 0 1 0 -8.7 0M747.2 914.0a4.35 4.35 0 1 0 8.7 0a4.35 4.35 0 1 0 -8.7 0M752.9 926.7a4.35 4.35 0 1 0 8.7 0a4.35 4.35 0 1 0 -8.7 0M822.0 926.0a4.35 4.35 0 1 0 8.7 0a4.35 4.35 0 1 0 -8.7 0M720.0 960.3a4.35 4.35 0 1 0 8.7 0a4.35 4.35 0 1 0 -8.7 0M730.4 965.7a4.35 4.35 0 1 0 8.7 0a4.35 4.35 0 1 0 -8.7 0M727.9 976.9a4.35 4.35 0 1 0 8.7 0a4.35 4.35 0 1 0 -8.7 0M795.2 978.0a4.35 4.35 0 1 0 8.7 0a4.35 4.35 0 1 0 -8.7 0M754.9 993.3a4.35 4.35 0 1 0 8.7 0a4.35 4.35 0 1 0 -8.7 0M722.9 1006.7a4.35 4.35 0 1 0 8.7 0a4.35 4.35 0 1 0 -8.7 0M850.9 1045.0a4.35 4.35 0 1 0 8.7 0a4.35 4.35 0 1 0 -8.7 0M885.4 1051.2a4.35 4.35 0 1 0 8.7 0a4.35 4.35 0 1 0 -8.7 0"/>
<path stroke="#377EB8" d="M279.5 56.7l5.85 10.12h-11.7zM343.2 82.9l5.85 10.12h-11.7zM268.8 118.1l5.85 10.12h-11.7zM633.7 375.3l5.85 10.12h-11.7zM756.6 556.0l5.85 10.12h-11.7zM667.5 714.0l5.85 10.12h-11.7zM341.2 731.1l5.85 10.12h-11.7zM286.2 750.8l5.85 10.12h-11.7zM303.2 772.7l5.85 10.12h-11.7zM406.2 771.8l5.85 10.12h-11.7zM227.1 789.7l5.85 10.12h-11.7zM319.8 797.0l5.85 10.12h-11.7zM367.5 797.4l5.85 10.12h-11.7zM302.5 805.5l5.85 10.12h-11.7zM351.2 809.5l5.85 10.12h-11.7zM404.4 819.3l5.85 10.12h-11.7zM272.5 832.4l5.85 10.12h-11.7zM352.9 835.5l5.85 10.12h-11.7zM274.6 858.7l5.85 10.12h-11.7zM155.6 863.4l5.85 10.12h-11.7zM214.4 869.7l5.85 10.12h-11.7zM182.5 873.9l5.85 10.12h-11.7zM151.2 879.3l5.85 10.12h-11.7zM222.5 879.3l5.85 10.12h-11.7zM288.1 880.3l5.85 10.12h-11.7zM178.4 889.7l5.85 10.12h-11.7zM222.8 891.4l5.85 10.12h-11.7zM244.4 888.7l5.85 10.12h-11.7zM272.2 887.7l5.85 10.12h-11.7zM287.1 901.4l5.85 10.12h-11.7zM157.5 906.1l5.85 10.12h-11.7zM418.8 901.1l5.85 10.12h-11.7zM214.4 916.8l5.85 10.12h-11.7zM310.4 917.4l5.85 10.12h-11.7zM245.6 922.1l5.85 10.12h-11.7zM216.2 926.1l5.85 10.12h-11.7zM247.5 929.7l5.85 10.12h-11.7zM171.0 940.5l5.85 10.12h-11.7zM192.2 939.7l5.85 10.12h-11.7zM195.6 945.5l5.85 10.12h-11.7zM363.1 934.3l5.85 10.12h-11.7zM182.5 964.3l5.85 10.12h-11.7zM282.8 967.4l5.85 10.12h-11.7zM344.6 966.1l5.85 10.12h-11.7zM282.1 981.1l5.85 10.12h-11.7zM176.2 992.8l5.85 10.12h-11.7zM173.1 998.0l5.85 10.12h-11.7zM147.8 998.7l5.85 10.12h-11.7zM319.8 987.4l5.85 10.12h-11.7zM372.5 1009.3l5.85 10.12h-11.7zM161.6 1025.5l5.85 10.12h-11.7zM223.8 1024.9l5.85 10.12h-11.7zM545.0 700.1l5.85 10.12h-11.7zM528.4 713.9l5.85 10.12h-11.7zM505.9 763.0l5.85 10.12h-11.7zM579.4 768.3l5.85 10.12h-11.7zM578.8 774.9l5.85 10.12h-11.7zM532.4 787.8l5.85 10.12h-11.7zM670.0 823.0l5.85 10.12h-11.7zM567.2 838.9l5.85 10.12h-11.7zM575.0 843.4l5.85 10.12h-11.7zM579.4 841.8l5.85 10.12h-11.7zM449.4 849.5l5.85 10.12h-11.7zM548.8 853.7l5.85 10.12h-11.7zM703.4 842.4l5.85 10.12h-11.7zM713.8 852.4l5.85 10.12h-11.7zM459.0 862.4l5.85 10.12h-11.7zM646.2 879.3l5.85 10.12h-11.7zM544.4 886.1l5.85 10.12h-11.7zM474.0 894.5l5.85 10.12h-11.7zM573.8 890.8l5.85 10.12h-11.7zM670.6 913.9l5.85 10.12h-11.7zM590.9 919.9l5.85 10.12h-11.7zM472.5 924.5l5.85 10.12h-11.7zM516.0 936.8l5.85 10.12h-11.7zM528.4 931.8l5.85 10.12h-11.7zM581.2 948.7l5.85 10.12h-11.7zM568.8 960.5l5.85 10.12h-11.7zM602.1 954.9l5.85 10.12h-11.7zM608.4 955.8l5.85 10.12h-11.7zM617.5 958.0l5.85 10.12h-11.7zM619.4 959.3l5.85 10.12h-11.7zM597.1 961.1l5.85 10.12h-11.7zM618.8 965.5l5.85 10.12h-11.7zM653.5 954.9l5.85 10.12h-11.7zM538.4 964.9l5.85 10.12h-11.7zM429.4 971.8l5.85 10.12h-11.7zM572.2 977.1l5.85 10.12h-11.7zM652.5 976.8l5.85 10.12h-11.7zM662.9 972.4l5.85 10.12h-11.7zM713.8 993.4l5.85 10.12h-11.7zM504.1 1016.8l5.85 10.12h-11.7zM429.8 1036.5l5.85 10.12h-11.7zM838.4 754.9l5.85 10.12h-11.7zM774.4 807.8l5.85 10.12h-11.7zM828.0 820.6l5.85 10.12h-11.7zM840.8 898.2l5.85 10.12h-11.7zM910.7 910.0l5.85 10.12h-11.7zM940.9 942.5l5.85 10.12h-11.7zM996.7 938.0l5.85 10.12h-11.7z"/>
<path stroke="#4DAF4A" d="M149.2 735.1h8.7v8.7h-8.7zM172.6 764.9h8.7v8.7h-8.7zM385.0 757.9h8.7v8.7h-8.7zM358.1 773.8h8.7v8.7h-8.7zM228.8 788.8h8.7v8.7h-8.7zM179.6 793.5h8.7v8.7h-8.7zM409.6 785.9h8.7v8.7h-8.7zM229.7 801.6h8.7v8.7h-8.7zM251.1 811.5h8.7v8.7h-8.7zM287.8 813.1h8.7v8.7h-8.7zM323.5 811.5h8.7v8.7h-8.7zM341.6 813.5h8.7v8.7h-8.7zM395.6 815.6h8.7v8.7h-8.7zM137.8 826.9h8.7v8.7h-8.7zM163.8 824.8h8.7v8.7h-8.7zM179.7 824.6h8.7v8.7h-8.7zM212.8 827.5h8.7v8.7h-8.7zM329.6 826.9h8.7v8.7h-8.7zM401.2 827.5h8.7v8.7h-8.7zM310.2 833.1h8.7v8.7h-8.7zM316.5 837.5h8.7v8.7h-8.7zM293.4 836.6h8.7v8.7h-8.7zM142.2 841.0h8.7v8.7h-8.7zM226.1 842.5h8.7v8.7h-8.7zM292.5 845.4h8.7v8.7h-8.7zM133.2 853.1h8.7v8.7h-8.7zM166.7 852.5h8.7v8.7h-8.7zM198.7 849.4h8.7v8.7h-8.7zM189.8 854.6h8.7v8.7h-8.7zM360.6 853.8h8.7v8.7h-8.7zM233.6 861.2h8.7v8.7h-8.7zM316.2 859.8h8.7v8.7h-8.7zM187.2 863.5h8.7v8.7h-8.7zM414.4 861.9h8.7v8.7h-8.7zM184.2 875.6h8.7v8.7h-8.7zM312.1 874.1h8.7v8.7h-8.7zM331.6 875.6h8.7v8.7h-8.7zM311.8 882.2h8.7v8.7h-8.7zM363.4 881.6h8.7v8.7h-8.7zM408.4 883.8h8.7v8.7h-8.7zM136.7 886.5h8.7v8.7h-8.7zM262.8 886.6h8.7v8.7h-8.7zM168.6 894.4h8.7v8.7h-8.7zM366.5 893.5h8.7v8.7h-8.7zM214.7 900.6h8.7v8.7h-8.7zM262.8 897.5h8.7v8.7h-8.7zM175.7 907.2h8.7v8.7h-8.7zM238.6 907.5h8.7v8.7h-8.7zM227.6 910.0h8.7v8.7h-8.7zM352.5 905.0h8.7v8.7h-8.7zM159.5 912.9h8.7v8.7h-8.7zM188.8 914.4h8.7v8.7h-8.7zM359.8 915.6h8.7v8.7h-8.7zM192.8 922.5h8.7v8.7h-8.7zM136.8 926.6h8.7v8.7h-8.7zM293.5 927.5h8.7v8.7h-8.7zM341.2 929.6h8.7v8.7h-8.7zM166.6 936.2h8.7v8.7h-8.7zM225.7 940.4h8.7v8.7h-8.7zM232.6 937.5h8.7v8.7h-8.7zM231.8 939.4h8.7v8.7h-8.7zM147.6 952.1h8.7v8.7h-8.7zM347.8 949.0h8.7v8.7h-8.7zM316.5 962.5h8.7v8.7h-8.7zM229.7 981.6h8.7v8.7h-8.7zM392.5 993.8h8.7v8.7h-8.7zM477.8 714.1h8.7v8.7h-8.7zM488.8 772.1h8.7v8.7h-8.7zM458.1 788.5h8.7v8.7h-8.7zM469.1 796.6h8.7v8.7h-8.7zM472.5 821.5h8.7v8.7h-8.7zM648.5 824.6h8.7v8.7h-8.7zM452.8 845.2h8.7v8.7h-8.7zM558.1 849.4h8.7v8.7h-8.7zM480.2 867.5h8.7v8.7h-8.7zM502.2 867.1h8.7v8.7h-8.7zM518.8 874.1h8.7v8.7h-8.7zM575.2 866.0h8.7v8.7h-8.7zM594.0 871.6h8.7v8.7h-8.7zM701.6 871.5h8.7v8.7h-8.7zM545.6 907.8h8.7v8.7h-8.7zM661.5 907.2h8.7v8.7h-8.7zM705.9 903.8h8.7v8.7h-8.7zM509.8 914.1h8.7v8.7h-8.7zM569.6 922.9h8.7v8.7h-8.7zM638.5 920.6h8.7v8.7h-8.7zM516.0 926.9h8.7v8.7h-8.7zM579.8 930.6h8.7v8.7h-8.7zM502.8 946.2h8.7v8.7h-8.7zM609.8 945.6h8.7v8.7h-8.7zM432.1 957.2h8.7v8.7h-8.7zM524.1 968.5h8.7v8.7h-8.7zM622.5 976.6h8.7v8.7h-8.7zM751.6 903.4h8.7v8.7h-8.7zM862.8 887.9h8.7v8.7h-8.7zM876.0 903.4h8.7v8.7h-8.7zM840.5 918.8h8.7v8.7h-8.7zM821.6 930.9h8.7v8.7h-8.7zM839.6 939.9h8.7v8.7h-8.7zM724.8 934.4h8.7v8.7h-8.7z"/>
</g>
<text x="1078" y="518.5" font-size="24.44" fill="#000">Set</text>
<rect x="1078.9" y="529.5" width="36.2" height="35.6" fill="#F2F2F2"/>
<path d="M1092.4 547.7a4.35 4.35 0 1 0 8.7 0a4.35 4.35 0 1 0 -8.7 0" fill="none" stroke="#E41A1C" stroke-width="1.5" stroke-linejoin="round"/>
<text x="1120.8" y="555.5" font-size="19.7" fill="#000">Train</text>
<rect x="1078.9" y="567.9" width="36.2" height="35.6" fill="#F2F2F2"/>
<path d="M1096.7 579.1l5.85 10.12h-11.7z" fill="none" stroke="#377EB8" stroke-width="1.5" stroke-linejoin="round"/>
<text x="1120.8" y="593.9" font-size="19.7" fill="#000">Test.1</text>
<rect x="1078.9" y="606.3" width="36.2" height="35.6" fill="#F2F2F2"/>
<path d="M1092.4 620.1h8.7v8.7h-8.7z" fill="none" stroke="#4DAF4A" stroke-width="1.5" stroke-linejoin="round"/>
<text x="1120.8" y="632.3" font-size="19.7" fill="#000">Test.2</text>
<rect x="1271" y="30" width="1117.8000000000002" height="1083.8" fill="#EBEBEB"/>
<path d="M1286.97 30V1113.8M1535.02 30V1113.8M1783.08 30V1113.8M2031.12 30V1113.8M2279.18 30V1113.8M1271 988.66H2388.8M1271 790.22H2388.8M1271 591.78H2388.8M1271 393.34H2388.8M1271 194.90H2388.8" stroke="#fff" stroke-width="1.2" fill="none"/>
<path d="M1411.00 30V1113.8M1659.05 30V1113.8M1907.10 30V1113.8M2155.15 30V1113.8M1271 1087.88H2388.8M1271 889.44H2388.8M1271 691.00H2388.8M1271 492.56H2388.8M1271 294.12H2388.8M1271 95.68H2388.8" stroke="#fff" stroke-width="2.37" fill="none"/>
<path d="M1411.00 1113.8v6.1M1659.05 1113.8v6.1M1907.10 1113.8v6.1M2155.15 1113.8v6.1M1271 1087.88h-6.1M1271 889.44h-6.1M1271 691.00h-6.1M1271 492.56h-6.1M1271 294.12h-6.1M1271 95.68h-6.1" stroke="#333" stroke-width="2.37" fill="none"/>
<text x="1260.5" y="1095.7" font-size="19.56" fill="#4D4D4D" text-anchor="end">-4</text>
<text x="1260.5" y="897.2" font-size="19.56" fill="#4D4D4D" text-anchor="end">-2</text>
<text x="1260.5" y="698.8" font-size="19.56" fill="#4D4D4D" text-anchor="end">0</text>
<text x="1260.5" y="500.4" font-size="19.56" fill="#4D4D4D" text-anchor="end">2</text>
<text x="1260.5" y="301.9" font-size="19.56" fill="#4D4D4D" text-anchor="end">4</text>
<text x="1260.5" y="103.5" font-size="19.56" fill="#4D4D4D" text-anchor="end">6</text>
<text x="1411.0" y="1139" font-size="19.56" fill="#4D4D4D" text-anchor="middle">-2.5</text>
<text x="1659.0" y="1139" font-size="19.56" fill="#4D4D4D" text-anchor="middle">0.0</text>
<text x="1907.1" y="1139" font-size="19.56" fill="#4D4D4D" text-anchor="middle">2.5</text>
<text x="2155.2" y="1139" font-size="19.56" fill="#4D4D4D" text-anchor="middle">5.0</text>
<text x="1829.5" y="1166.5" font-size="22.9" fill="#000" text-anchor="middle">Observed Response</text>
<text transform="translate(1228,572) rotate(-90)" font-size="23.2" fill="#000" text-anchor="middle">Predicted Response</text>
<clipPath id="cr"><rect x="1271" y="30" width="1117.8000000000002" height="1083.8"/></clipPath>
<g clip-path="url(#cr)">
<path d="M1242.3 1107.7L2373.4 -23.4" stroke="#000" stroke-opacity="0.31" stroke-width="1.95" fill="none"/>
<g fill="#000" fill-opacity="0.3" stroke="#000" stroke-opacity="0.3" stroke-width="1.5">
<circle cx="1401.8" cy="1064.8" r="5.55"/>
<circle cx="1508.8" cy="1027.2" r="5.55"/>
<circle cx="1527.8" cy="823.5" r="5.55"/>
<circle cx="1534.8" cy="817.8" r="5.55"/>
<circle cx="1549.8" cy="816.5" r="5.55"/>
<circle cx="1559.2" cy="816.5" r="5.55"/>
<circle cx="1762.0" cy="831.5" r="5.55"/>
<circle cx="1776.0" cy="831.5" r="5.55"/>
<circle cx="1321.5" cy="672.4" r="5.55"/>
<circle cx="1388.0" cy="729.6" r="5.55"/>
<circle cx="1386.0" cy="781.2" r="5.55"/>
<circle cx="1369.1" cy="797.1" r="5.55"/>
<circle cx="1461.4" cy="670.9" r="5.55"/>
<circle cx="1449.1" cy="682.8" r="5.55"/>
<circle cx="1447.2" cy="684.0" r="5.55"/>
<circle cx="1446.0" cy="686.2" r="5.55"/>
<circle cx="1453.5" cy="690.2" r="5.55"/>
<circle cx="1440.4" cy="699.6" r="5.55"/>
<circle cx="1450.6" cy="699.9" r="5.55"/>
<circle cx="1462.6" cy="695.2" r="5.55"/>
<circle cx="1490.1" cy="736.8" r="5.55"/>
<circle cx="1505.0" cy="751.9" r="5.55"/>
<circle cx="1483.2" cy="762.1" r="5.55"/>
<circle cx="1500.0" cy="790.6" r="5.55"/>
<circle cx="1526.9" cy="701.9" r="5.55"/>
<circle cx="1527.9" cy="757.1" r="5.55"/>
<circle cx="1521.6" cy="766.5" r="5.55"/>
<circle cx="1522.0" cy="768.4" r="5.55"/>
<circle cx="1544.8" cy="677.8" r="5.55"/>
<circle cx="1541.6" cy="686.2" r="5.55"/>
<circle cx="1542.2" cy="700.6" r="5.55"/>
<circle cx="1550.0" cy="699.6" r="5.55"/>
<circle cx="1556.9" cy="690.6" r="5.55"/>
<circle cx="1562.9" cy="681.5" r="5.55"/>
<circle cx="1564.8" cy="683.4" r="5.55"/>
<circle cx="1567.2" cy="714.0" r="5.55"/>
<circle cx="1554.8" cy="729.6" r="5.55"/>
<circle cx="1563.5" cy="729.0" r="5.55"/>
<circle cx="1563.5" cy="737.8" r="5.55"/>
<circle cx="1569.1" cy="745.9" r="5.55"/>
<circle cx="1549.1" cy="759.6" r="5.55"/>
<circle cx="1549.8" cy="760.2" r="5.55"/>
<circle cx="1558.5" cy="757.1" r="5.55"/>
<circle cx="1544.8" cy="771.1" r="5.55"/>
<circle cx="1551.9" cy="788.4" r="5.55"/>
<circle cx="1547.9" cy="795.2" r="5.55"/>
<circle cx="1544.8" cy="805.9" r="5.55"/>
<circle cx="1563.5" cy="665.9" r="5.55"/>
<circle cx="1567.9" cy="667.1" r="5.55"/>
<circle cx="1591.2" cy="664.0" r="5.55"/>
<circle cx="1601.2" cy="664.6" r="5.55"/>
<circle cx="1606.2" cy="665.2" r="5.55"/>
<circle cx="1616.2" cy="665.2" r="5.55"/>
<circle cx="1625.0" cy="664.6" r="5.55"/>
<circle cx="1638.8" cy="665.2" r="5.55"/>
<circle cx="1640.0" cy="669.0" r="5.55"/>
<circle cx="1605.0" cy="674.0" r="5.55"/>
<circle cx="1633.1" cy="678.4" r="5.55"/>
<circle cx="1606.9" cy="682.1" r="5.55"/>
<circle cx="1611.2" cy="686.5" r="5.55"/>
<circle cx="1615.0" cy="689.0" r="5.55"/>
<circle cx="1595.4" cy="687.1" r="5.55"/>
<circle cx="1630.0" cy="688.4" r="5.55"/>
<circle cx="1630.6" cy="690.2" r="5.55"/>
<circle cx="1637.5" cy="689.6" r="5.55"/>
<circle cx="1634.4" cy="694.0" r="5.55"/>
<circle cx="1670.0" cy="676.5" r="5.55"/>
<circle cx="1660.6" cy="684.0" r="5.55"/>
<circle cx="1657.5" cy="687.1" r="5.55"/>
<circle cx="1671.0" cy="690.6" r="5.55"/>
<circle cx="1683.8" cy="671.5" r="5.55"/>
<circle cx="1685.6" cy="675.2" r="5.55"/>
<circle cx="1687.5" cy="676.5" r="5.55"/>
<circle cx="1686.9" cy="686.2" r="5.55"/>
<circle cx="1677.5" cy="664.6" r="5.55"/>
<circle cx="1708.8" cy="665.2" r="5.55"/>
<circle cx="1709.4" cy="672.8" r="5.55"/>
<circle cx="1710.6" cy="679.0" r="5.55"/>
<circle cx="1705.6" cy="689.4" r="5.55"/>
<circle cx="1730.4" cy="675.6" r="5.55"/>
<circle cx="1768.1" cy="664.0" r="5.55"/>
<circle cx="1785.9" cy="680.0" r="5.55"/>
<circle cx="1804.6" cy="675.0" r="5.55"/>
<circle cx="1806.6" cy="682.8" r="5.55"/>
<circle cx="1817.8" cy="680.2" r="5.55"/>
<circle cx="1831.6" cy="685.9" r="5.55"/>
<circle cx="1840.6" cy="685.6" r="5.55"/>
<circle cx="1582.5" cy="699.0" r="5.55"/>
<circle cx="1582.5" cy="699.6" r="5.55"/>
<circle cx="1584.4" cy="707.1" r="5.55"/>
<circle cx="1597.5" cy="701.9" r="5.55"/>
<circle cx="1625.0" cy="700.9" r="5.55"/>
<circle cx="1643.8" cy="697.1" r="5.55"/>
<circle cx="1646.2" cy="700.9" r="5.55"/>
<circle cx="1616.2" cy="712.8" r="5.55"/>
<circle cx="1638.1" cy="712.8" r="5.55"/>
<circle cx="1651.9" cy="712.1" r="5.55"/>
<circle cx="1661.9" cy="709.6" r="5.55"/>
<circle cx="1668.8" cy="711.9" r="5.55"/>
<circle cx="1679.8" cy="707.8" r="5.55"/>
<circle cx="1694.6" cy="708.8" r="5.55"/>
<circle cx="1771.9" cy="706.8" r="5.55"/>
<circle cx="1594.6" cy="721.9" r="5.55"/>
<circle cx="1641.9" cy="720.2" r="5.55"/>
<circle cx="1674.8" cy="721.2" r="5.55"/>
<circle cx="1656.9" cy="728.4" r="5.55"/>
<circle cx="1657.2" cy="728.8" r="5.55"/>
<circle cx="1663.1" cy="726.9" r="5.55"/>
<circle cx="1689.6" cy="730.2" r="5.55"/>
<circle cx="1613.1" cy="727.8" r="5.55"/>
<circle cx="1627.1" cy="730.6" r="5.55"/>
<circle cx="1635.0" cy="732.5" r="5.55"/>
<circle cx="1598.1" cy="735.9" r="5.55"/>
<circle cx="1603.4" cy="738.4" r="5.55"/>
<circle cx="1621.2" cy="739.0" r="5.55"/>
<circle cx="1623.4" cy="739.0" r="5.55"/>
<circle cx="1611.9" cy="742.8" r="5.55"/>
<circle cx="1618.4" cy="745.9" r="5.55"/>
<circle cx="1593.5" cy="743.4" r="5.55"/>
<circle cx="1733.4" cy="748.1" r="5.55"/>
<circle cx="1821.6" cy="736.5" r="5.55"/>
<circle cx="1636.2" cy="754.0" r="5.55"/>
<circle cx="1647.1" cy="760.5" r="5.55"/>
<circle cx="1820.6" cy="757.8" r="5.55"/>
<circle cx="1586.5" cy="755.6" r="5.55"/>
<circle cx="1574.6" cy="759.9" r="5.55"/>
<circle cx="1582.5" cy="770.9" r="5.55"/>
<circle cx="1578.1" cy="778.4" r="5.55"/>
<circle cx="1580.0" cy="778.4" r="5.55"/>
<circle cx="1592.5" cy="778.8" r="5.55"/>
<circle cx="1361.2" cy="593.0" r="5.55"/>
<circle cx="1548.8" cy="554.2" r="5.55"/>
<circle cx="1548.8" cy="595.0" r="5.55"/>
<circle cx="1532.0" cy="613.1" r="5.55"/>
<circle cx="1546.9" cy="615.5" r="5.55"/>
<circle cx="1554.8" cy="627.8" r="5.55"/>
<circle cx="1522.0" cy="633.4" r="5.55"/>
<circle cx="1547.9" cy="638.1" r="5.55"/>
<circle cx="1560.8" cy="644.6" r="5.55"/>
<circle cx="1489.1" cy="637.8" r="5.55"/>
<circle cx="1480.4" cy="648.4" r="5.55"/>
<circle cx="1498.1" cy="653.1" r="5.55"/>
<circle cx="1495.1" cy="659.0" r="5.55"/>
<circle cx="1701.2" cy="514.0" r="5.55"/>
<circle cx="1721.2" cy="515.9" r="5.55"/>
<circle cx="1732.5" cy="515.2" r="5.55"/>
<circle cx="1745.6" cy="514.0" r="5.55"/>
<circle cx="1758.1" cy="514.6" r="5.55"/>
<circle cx="1757.5" cy="515.9" r="5.55"/>
<circle cx="1769.4" cy="515.9" r="5.55"/>
<circle cx="1769.4" cy="525.2" r="5.55"/>
<circle cx="1778.1" cy="524.6" r="5.55"/>
<circle cx="1783.1" cy="531.5" r="5.55"/>
<circle cx="1827.5" cy="520.2" r="5.55"/>
<circle cx="1830.6" cy="527.8" r="5.55"/>
<circle cx="1792.5" cy="533.4" r="5.55"/>
<circle cx="1798.1" cy="534.6" r="5.55"/>
<circle cx="1801.2" cy="531.5" r="5.55"/>
<circle cx="1809.4" cy="531.5" r="5.55"/>
<circle cx="1811.9" cy="534.0" r="5.55"/>
<circle cx="1812.5" cy="535.9" r="5.55"/>
<circle cx="1846.2" cy="519.6" r="5.55"/>
<circle cx="1850.0" cy="519.6" r="5.55"/>
<circle cx="1856.2" cy="517.8" r="5.55"/>
<circle cx="1860.0" cy="516.5" r="5.55"/>
<circle cx="1863.8" cy="517.8" r="5.55"/>
<circle cx="1864.4" cy="526.5" r="5.55"/>
<circle cx="1840.0" cy="530.2" r="5.55"/>
<circle cx="1837.5" cy="534.0" r="5.55"/>
<circle cx="1847.5" cy="525.2" r="5.55"/>
<circle cx="1862.5" cy="532.8" r="5.55"/>
<circle cx="1852.5" cy="516.5" r="5.55"/>
<circle cx="1858.1" cy="519.6" r="5.55"/>
<circle cx="1853.8" cy="520.2" r="5.55"/>
<circle cx="1598.1" cy="548.8" r="5.55"/>
<circle cx="1587.5" cy="555.9" r="5.55"/>
<circle cx="1655.0" cy="548.4" r="5.55"/>
<circle cx="1653.8" cy="555.2" r="5.55"/>
<circle cx="1664.1" cy="556.5" r="5.55"/>
<circle cx="1689.4" cy="537.1" r="5.55"/>
<circle cx="1688.8" cy="542.1" r="5.55"/>
<circle cx="1688.1" cy="544.6" r="5.55"/>
<circle cx="1698.8" cy="540.6" r="5.55"/>
<circle cx="1708.8" cy="545.0" r="5.55"/>
<circle cx="1680.9" cy="554.6" r="5.55"/>
<circle cx="1695.6" cy="554.6" r="5.55"/>
<circle cx="1744.4" cy="548.4" r="5.55"/>
<circle cx="1768.1" cy="545.9" r="5.55"/>
<circle cx="1767.5" cy="554.6" r="5.55"/>
<circle cx="1758.1" cy="555.9" r="5.55"/>
<circle cx="1765.0" cy="557.8" r="5.55"/>
<circle cx="1761.9" cy="560.9" r="5.55"/>
<circle cx="1810.0" cy="540.2" r="5.55"/>
<circle cx="1813.8" cy="537.8" r="5.55"/>
<circle cx="1816.2" cy="542.8" r="5.55"/>
<circle cx="1820.6" cy="547.1" r="5.55"/>
<circle cx="1823.8" cy="538.4" r="5.55"/>
<circle cx="1827.5" cy="544.6" r="5.55"/>
<circle cx="1830.0" cy="534.0" r="5.55"/>
<circle cx="1846.9" cy="537.1" r="5.55"/>
<circle cx="1848.8" cy="547.8" r="5.55"/>
<circle cx="1849.4" cy="551.5" r="5.55"/>
<circle cx="1850.0" cy="552.8" r="5.55"/>
<circle cx="1857.5" cy="547.1" r="5.55"/>
<circle cx="1864.4" cy="540.9" r="5.55"/>
<circle cx="1787.5" cy="554.6" r="5.55"/>
<circle cx="1790.6" cy="555.2" r="5.55"/>
<circle cx="1792.5" cy="557.1" r="5.55"/>
<circle cx="1813.8" cy="550.2" r="5.55"/>
<circle cx="1818.8" cy="547.8" r="5.55"/>
<circle cx="1813.1" cy="555.2" r="5.55"/>
<circle cx="1814.4" cy="557.8" r="5.55"/>
<circle cx="1817.5" cy="561.5" r="5.55"/>
<circle cx="1828.8" cy="555.2" r="5.55"/>
<circle cx="1832.5" cy="557.8" r="5.55"/>
<circle cx="1836.2" cy="554.0" r="5.55"/>
<circle cx="1831.2" cy="550.2" r="5.55"/>
<circle cx="1582.5" cy="565.6" r="5.55"/>
<circle cx="1632.1" cy="564.6" r="5.55"/>
<circle cx="1620.4" cy="571.9" r="5.55"/>
<circle cx="1604.4" cy="575.9" r="5.55"/>
<circle cx="1708.1" cy="562.8" r="5.55"/>
<circle cx="1715.6" cy="565.2" r="5.55"/>
<circle cx="1698.8" cy="569.0" r="5.55"/>
<circle cx="1730.6" cy="568.4" r="5.55"/>
<circle cx="1803.1" cy="564.6" r="5.55"/>
<circle cx="1810.0" cy="569.6" r="5.55"/>
<circle cx="1851.2" cy="564.6" r="5.55"/>
<circle cx="1795.6" cy="561.5" r="5.55"/>
<circle cx="1771.9" cy="571.5" r="5.55"/>
<circle cx="1864.4" cy="559.0" r="5.55"/>
<circle cx="1646.2" cy="575.9" r="5.55"/>
<circle cx="1659.8" cy="578.4" r="5.55"/>
<circle cx="1697.9" cy="576.1" r="5.55"/>
<circle cx="1718.1" cy="575.2" r="5.55"/>
<circle cx="1715.6" cy="579.6" r="5.55"/>
<circle cx="1728.8" cy="575.2" r="5.55"/>
<circle cx="1728.1" cy="577.1" r="5.55"/>
<circle cx="1708.8" cy="588.6" r="5.55"/>
<circle cx="1744.4" cy="580.2" r="5.55"/>
<circle cx="1749.4" cy="584.0" r="5.55"/>
<circle cx="1763.8" cy="575.2" r="5.55"/>
<circle cx="1766.9" cy="575.2" r="5.55"/>
<circle cx="1768.8" cy="577.1" r="5.55"/>
<circle cx="1763.1" cy="580.2" r="5.55"/>
<circle cx="1781.2" cy="579.0" r="5.55"/>
<circle cx="1788.1" cy="575.2" r="5.55"/>
<circle cx="1788.8" cy="579.0" r="5.55"/>
<circle cx="1788.1" cy="584.0" r="5.55"/>
<circle cx="1778.1" cy="587.8" r="5.55"/>
<circle cx="1778.8" cy="589.6" r="5.55"/>
<circle cx="1801.9" cy="577.8" r="5.55"/>
<circle cx="1804.4" cy="581.5" r="5.55"/>
<circle cx="1810.6" cy="587.8" r="5.55"/>
<circle cx="1847.5" cy="589.0" r="5.55"/>
<circle cx="1864.4" cy="584.0" r="5.55"/>
<circle cx="1620.0" cy="594.0" r="5.55"/>
<circle cx="1625.0" cy="595.9" r="5.55"/>
<circle cx="1738.5" cy="591.9" r="5.55"/>
<circle cx="1739.4" cy="597.1" r="5.55"/>
<circle cx="1742.5" cy="599.0" r="5.55"/>
<circle cx="1741.2" cy="595.9" r="5.55"/>
<circle cx="1752.5" cy="599.6" r="5.55"/>
<circle cx="1758.1" cy="599.0" r="5.55"/>
<circle cx="1759.4" cy="599.0" r="5.55"/>
<circle cx="1779.4" cy="596.5" r="5.55"/>
<circle cx="1780.0" cy="602.1" r="5.55"/>
<circle cx="1780.0" cy="606.5" r="5.55"/>
<circle cx="1767.5" cy="605.2" r="5.55"/>
<circle cx="1803.8" cy="594.6" r="5.55"/>
<circle cx="1811.9" cy="592.1" r="5.55"/>
<circle cx="1827.5" cy="597.1" r="5.55"/>
<circle cx="1839.4" cy="597.1" r="5.55"/>
<circle cx="1841.9" cy="597.1" r="5.55"/>
<circle cx="1864.4" cy="597.1" r="5.55"/>
<circle cx="1864.4" cy="605.2" r="5.55"/>
<circle cx="1645.6" cy="600.2" r="5.55"/>
<circle cx="1659.4" cy="602.8" r="5.55"/>
<circle cx="1663.8" cy="603.4" r="5.55"/>
<circle cx="1638.8" cy="607.1" r="5.55"/>
<circle cx="1651.2" cy="607.1" r="5.55"/>
<circle cx="1651.9" cy="610.2" r="5.55"/>
<circle cx="1691.9" cy="605.0" r="5.55"/>
<circle cx="1719.4" cy="603.4" r="5.55"/>
<circle cx="1701.2" cy="609.6" r="5.55"/>
<circle cx="1727.5" cy="609.6" r="5.55"/>
<circle cx="1738.1" cy="611.5" r="5.55"/>
<circle cx="1581.6" cy="610.0" r="5.55"/>
<circle cx="1585.6" cy="614.0" r="5.55"/>
<circle cx="1609.4" cy="617.8" r="5.55"/>
<circle cx="1618.1" cy="617.8" r="5.55"/>
<circle cx="1635.9" cy="615.9" r="5.55"/>
<circle cx="1639.4" cy="625.9" r="5.55"/>
<circle cx="1653.1" cy="617.8" r="5.55"/>
<circle cx="1653.8" cy="624.0" r="5.55"/>
<circle cx="1663.8" cy="615.2" r="5.55"/>
<circle cx="1670.0" cy="617.8" r="5.55"/>
<circle cx="1664.4" cy="625.2" r="5.55"/>
<circle cx="1675.0" cy="609.0" r="5.55"/>
<circle cx="1678.1" cy="610.9" r="5.55"/>
<circle cx="1679.4" cy="612.8" r="5.55"/>
<circle cx="1700.6" cy="614.0" r="5.55"/>
<circle cx="1698.8" cy="617.1" r="5.55"/>
<circle cx="1700.0" cy="612.8" r="5.55"/>
<circle cx="1723.8" cy="617.1" r="5.55"/>
<circle cx="1728.8" cy="614.6" r="5.55"/>
<circle cx="1730.0" cy="619.0" r="5.55"/>
<circle cx="1727.5" cy="621.5" r="5.55"/>
<circle cx="1737.5" cy="619.0" r="5.55"/>
<circle cx="1731.2" cy="627.8" r="5.55"/>
<circle cx="1767.9" cy="621.5" r="5.55"/>
<circle cx="1775.0" cy="625.9" r="5.55"/>
<circle cx="1748.1" cy="628.4" r="5.55"/>
<circle cx="1816.9" cy="613.4" r="5.55"/>
<circle cx="1821.2" cy="612.1" r="5.55"/>
<circle cx="1824.8" cy="625.9" r="5.55"/>
<circle cx="1688.8" cy="628.4" r="5.55"/>
<circle cx="1598.1" cy="628.4" r="5.55"/>
<circle cx="1609.4" cy="631.5" r="5.55"/>
<circle cx="1584.4" cy="636.5" r="5.55"/>
<circle cx="1607.5" cy="642.8" r="5.55"/>
<circle cx="1576.2" cy="644.6" r="5.55"/>
<circle cx="1586.2" cy="645.9" r="5.55"/>
<circle cx="1588.8" cy="647.8" r="5.55"/>
<circle cx="1651.2" cy="637.1" r="5.55"/>
<circle cx="1657.5" cy="631.5" r="5.55"/>
<circle cx="1661.2" cy="637.8" r="5.55"/>
<circle cx="1663.8" cy="642.8" r="5.55"/>
<circle cx="1685.0" cy="636.5" r="5.55"/>
<circle cx="1698.8" cy="632.8" r="5.55"/>
<circle cx="1708.8" cy="631.5" r="5.55"/>
<circle cx="1718.8" cy="632.1" r="5.55"/>
<circle cx="1768.1" cy="634.6" r="5.55"/>
<circle cx="1769.4" cy="640.9" r="5.55"/>
<circle cx="1773.8" cy="643.4" r="5.55"/>
<circle cx="1783.1" cy="645.2" r="5.55"/>
<circle cx="1728.1" cy="644.0" r="5.55"/>
<circle cx="1728.8" cy="647.1" r="5.55"/>
<circle cx="1730.0" cy="650.2" r="5.55"/>
<circle cx="1690.0" cy="646.5" r="5.55"/>
<circle cx="1680.0" cy="648.4" r="5.55"/>
<circle cx="1672.5" cy="647.1" r="5.55"/>
<circle cx="1807.5" cy="641.5" r="5.55"/>
<circle cx="1807.5" cy="649.0" r="5.55"/>
<circle cx="1847.5" cy="634.0" r="5.55"/>
<circle cx="1845.6" cy="647.8" r="5.55"/>
<circle cx="1836.9" cy="649.0" r="5.55"/>
<circle cx="1599.4" cy="650.9" r="5.55"/>
<circle cx="1615.6" cy="655.2" r="5.55"/>
<circle cx="1640.0" cy="654.0" r="5.55"/>
<circle cx="1656.2" cy="650.2" r="5.55"/>
<circle cx="1630.0" cy="660.9" r="5.55"/>
<circle cx="1633.8" cy="659.6" r="5.55"/>
<circle cx="1668.1" cy="657.1" r="5.55"/>
<circle cx="1677.5" cy="656.5" r="5.55"/>
<circle cx="1679.4" cy="659.0" r="5.55"/>
<circle cx="1690.0" cy="655.2" r="5.55"/>
<circle cx="1692.5" cy="655.9" r="5.55"/>
<circle cx="1731.2" cy="657.8" r="5.55"/>
<circle cx="1768.1" cy="654.0" r="5.55"/>
<circle cx="1778.1" cy="655.2" r="5.55"/>
<circle cx="1864.4" cy="659.0" r="5.55"/>
<circle cx="1876.2" cy="522.8" r="5.55"/>
<circle cx="1885.6" cy="522.1" r="5.55"/>
<circle cx="1886.2" cy="522.8" r="5.55"/>
<circle cx="1897.5" cy="522.8" r="5.55"/>
<circle cx="1898.1" cy="527.1" r="5.55"/>
<circle cx="1896.2" cy="516.5" r="5.55"/>
<circle cx="1915.6" cy="517.1" r="5.55"/>
<circle cx="1938.1" cy="517.1" r="5.55"/>
<circle cx="1938.8" cy="517.8" r="5.55"/>
<circle cx="1946.9" cy="517.1" r="5.55"/>
<circle cx="1956.9" cy="519.0" r="5.55"/>
<circle cx="1958.1" cy="514.6" r="5.55"/>
<circle cx="1976.2" cy="514.0" r="5.55"/>
<circle cx="2014.1" cy="521.8" r="5.55"/>
<circle cx="2087.5" cy="530.9" r="5.55"/>
<circle cx="2026.0" cy="542.4" r="5.55"/>
<circle cx="1886.9" cy="533.8" r="5.55"/>
<circle cx="1915.6" cy="534.6" r="5.55"/>
<circle cx="1930.9" cy="534.6" r="5.55"/>
<circle cx="1956.6" cy="533.8" r="5.55"/>
<circle cx="1876.2" cy="543.6" r="5.55"/>
<circle cx="1898.8" cy="540.2" r="5.55"/>
<circle cx="1906.9" cy="543.4" r="5.55"/>
<circle cx="1907.5" cy="545.9" r="5.55"/>
<circle cx="1920.0" cy="544.4" r="5.55"/>
<circle cx="1886.9" cy="547.8" r="5.55"/>
<circle cx="1886.2" cy="549.6" r="5.55"/>
<circle cx="1916.9" cy="553.4" r="5.55"/>
<circle cx="1906.9" cy="559.0" r="5.55"/>
<circle cx="1888.8" cy="557.8" r="5.55"/>
<circle cx="1879.4" cy="563.4" r="5.55"/>
<circle cx="1875.0" cy="568.4" r="5.55"/>
<circle cx="1897.1" cy="567.1" r="5.55"/>
<circle cx="1946.6" cy="562.1" r="5.55"/>
<circle cx="1946.9" cy="566.5" r="5.55"/>
<circle cx="1966.2" cy="559.6" r="5.55"/>
<circle cx="1966.5" cy="560.9" r="5.55"/>
<circle cx="1966.5" cy="570.9" r="5.55"/>
<circle cx="1926.9" cy="570.9" r="5.55"/>
<circle cx="1936.6" cy="572.5" r="5.55"/>
<circle cx="1911.0" cy="580.0" r="5.55"/>
<circle cx="1953.5" cy="580.2" r="5.55"/>
<circle cx="1887.5" cy="585.5" r="5.55"/>
<circle cx="1887.8" cy="585.9" r="5.55"/>
<circle cx="1920.9" cy="593.6" r="5.55"/>
<circle cx="1887.1" cy="610.0" r="5.55"/>
<circle cx="1958.8" cy="609.0" r="5.55"/>
<circle cx="2080.9" cy="605.6" r="5.55"/>
<circle cx="2106.2" cy="592.8" r="5.55"/>
<circle cx="1887.1" cy="626.5" r="5.55"/>
<circle cx="1881.0" cy="634.6" r="5.55"/>
<circle cx="1917.9" cy="636.1" r="5.55"/>
<circle cx="1956.6" cy="655.9" r="5.55"/>
<circle cx="1868.8" cy="517.8" r="5.55"/>
<circle cx="1872.5" cy="515.2" r="5.55"/>
<circle cx="1552.5" cy="435.2" r="5.55"/>
<circle cx="1549.2" cy="441.5" r="5.55"/>
<circle cx="1515.0" cy="502.0" r="5.55"/>
<circle cx="1779.0" cy="337.0" r="5.55"/>
<circle cx="1798.5" cy="352.0" r="5.55"/>
<circle cx="1867.2" cy="326.0" r="5.55"/>
<circle cx="1707.8" cy="402.4" r="5.55"/>
<circle cx="1733.4" cy="413.8" r="5.55"/>
<circle cx="1772.9" cy="398.8" r="5.55"/>
<circle cx="1793.8" cy="391.8" r="5.55"/>
<circle cx="1795.0" cy="398.8" r="5.55"/>
<circle cx="1815.9" cy="397.8" r="5.55"/>
<circle cx="1847.5" cy="393.4" r="5.55"/>
<circle cx="1859.4" cy="388.4" r="5.55"/>
<circle cx="1837.5" cy="401.2" r="5.55"/>
<circle cx="1817.8" cy="408.4" r="5.55"/>
<circle cx="1857.5" cy="407.8" r="5.55"/>
<circle cx="1852.5" cy="412.1" r="5.55"/>
<circle cx="1837.5" cy="413.1" r="5.55"/>
<circle cx="1818.1" cy="415.2" r="5.55"/>
<circle cx="1826.6" cy="418.4" r="5.55"/>
<circle cx="1787.5" cy="415.9" r="5.55"/>
<circle cx="1796.2" cy="417.1" r="5.55"/>
<circle cx="1800.0" cy="418.6" r="5.55"/>
<circle cx="1778.8" cy="421.5" r="5.55"/>
<circle cx="1783.8" cy="422.1" r="5.55"/>
<circle cx="1770.0" cy="426.9" r="5.55"/>
<circle cx="1797.5" cy="427.8" r="5.55"/>
<circle cx="1798.1" cy="430.2" r="5.55"/>
<circle cx="1847.5" cy="421.5" r="5.55"/>
<circle cx="1845.6" cy="427.1" r="5.55"/>
<circle cx="1864.4" cy="421.5" r="5.55"/>
<circle cx="1826.2" cy="429.0" r="5.55"/>
<circle cx="1833.8" cy="432.1" r="5.55"/>
<circle cx="1728.4" cy="439.9" r="5.55"/>
<circle cx="1748.1" cy="438.4" r="5.55"/>
<circle cx="1746.9" cy="443.4" r="5.55"/>
<circle cx="1705.0" cy="445.2" r="5.55"/>
<circle cx="1708.8" cy="447.1" r="5.55"/>
<circle cx="1765.6" cy="441.5" r="5.55"/>
<circle cx="1770.0" cy="438.4" r="5.55"/>
<circle cx="1771.9" cy="440.2" r="5.55"/>
<circle cx="1770.6" cy="440.9" r="5.55"/>
<circle cx="1788.1" cy="437.8" r="5.55"/>
<circle cx="1794.4" cy="440.9" r="5.55"/>
<circle cx="1803.1" cy="442.1" r="5.55"/>
<circle cx="1804.4" cy="439.0" r="5.55"/>
<circle cx="1810.0" cy="435.9" r="5.55"/>
<circle cx="1822.5" cy="439.6" r="5.55"/>
<circle cx="1827.5" cy="440.2" r="5.55"/>
<circle cx="1833.8" cy="434.0" r="5.55"/>
<circle cx="1830.0" cy="437.8" r="5.55"/>
<circle cx="1846.2" cy="434.0" r="5.55"/>
<circle cx="1851.2" cy="440.2" r="5.55"/>
<circle cx="1851.9" cy="441.5" r="5.55"/>
<circle cx="1865.0" cy="444.0" r="5.55"/>
<circle cx="1817.5" cy="446.5" r="5.55"/>
<circle cx="1821.2" cy="450.2" r="5.55"/>
<circle cx="1822.5" cy="444.0" r="5.55"/>
<circle cx="1718.5" cy="450.2" r="5.55"/>
<circle cx="1718.8" cy="450.9" r="5.55"/>
<circle cx="1773.1" cy="453.4" r="5.55"/>
<circle cx="1767.9" cy="457.1" r="5.55"/>
<circle cx="1747.1" cy="460.2" r="5.55"/>
<circle cx="1788.8" cy="459.0" r="5.55"/>
<circle cx="1787.5" cy="462.1" r="5.55"/>
<circle cx="1798.8" cy="464.4" r="5.55"/>
<circle cx="1818.1" cy="461.5" r="5.55"/>
<circle cx="1820.6" cy="462.8" r="5.55"/>
<circle cx="1827.5" cy="462.8" r="5.55"/>
<circle cx="1831.2" cy="462.8" r="5.55"/>
<circle cx="1835.0" cy="459.0" r="5.55"/>
<circle cx="1836.2" cy="461.5" r="5.55"/>
<circle cx="1838.8" cy="460.9" r="5.55"/>
<circle cx="1836.9" cy="454.0" r="5.55"/>
<circle cx="1833.8" cy="455.2" r="5.55"/>
<circle cx="1840.0" cy="464.0" r="5.55"/>
<circle cx="1857.5" cy="454.6" r="5.55"/>
<circle cx="1785.0" cy="467.1" r="5.55"/>
<circle cx="1754.4" cy="467.8" r="5.55"/>
<circle cx="1747.5" cy="475.2" r="5.55"/>
<circle cx="1748.1" cy="476.5" r="5.55"/>
<circle cx="1745.0" cy="476.5" r="5.55"/>
<circle cx="1777.5" cy="477.1" r="5.55"/>
<circle cx="1775.0" cy="480.2" r="5.55"/>
<circle cx="1789.4" cy="481.5" r="5.55"/>
<circle cx="1801.9" cy="476.9" r="5.55"/>
<circle cx="1848.8" cy="468.4" r="5.55"/>
<circle cx="1850.0" cy="469.0" r="5.55"/>
<circle cx="1847.5" cy="477.1" r="5.55"/>
<circle cx="1864.4" cy="470.2" r="5.55"/>
<circle cx="1837.5" cy="465.2" r="5.55"/>
<circle cx="1827.5" cy="480.2" r="5.55"/>
<circle cx="1828.1" cy="483.4" r="5.55"/>
<circle cx="1835.6" cy="480.2" r="5.55"/>
<circle cx="1838.1" cy="485.2" r="5.55"/>
<circle cx="1828.8" cy="484.0" r="5.55"/>
<circle cx="1698.8" cy="481.5" r="5.55"/>
<circle cx="1690.6" cy="484.6" r="5.55"/>
<circle cx="1748.1" cy="487.1" r="5.55"/>
<circle cx="1746.9" cy="490.9" r="5.55"/>
<circle cx="1738.1" cy="496.5" r="5.55"/>
<circle cx="1708.8" cy="490.2" r="5.55"/>
<circle cx="1708.1" cy="491.5" r="5.55"/>
<circle cx="1713.8" cy="495.9" r="5.55"/>
<circle cx="1677.5" cy="495.2" r="5.55"/>
<circle cx="1683.8" cy="495.2" r="5.55"/>
<circle cx="1680.0" cy="497.1" r="5.55"/>
<circle cx="1678.8" cy="499.6" r="5.55"/>
<circle cx="1783.8" cy="492.8" r="5.55"/>
<circle cx="1791.9" cy="492.8" r="5.55"/>
<circle cx="1857.5" cy="489.0" r="5.55"/>
<circle cx="1825.6" cy="496.5" r="5.55"/>
<circle cx="1789.4" cy="499.6" r="5.55"/>
<circle cx="1781.2" cy="502.8" r="5.55"/>
<circle cx="1783.1" cy="503.4" r="5.55"/>
<circle cx="1823.8" cy="503.4" r="5.55"/>
<circle cx="1836.2" cy="499.6" r="5.55"/>
<circle cx="1841.2" cy="500.2" r="5.55"/>
<circle cx="1833.8" cy="501.5" r="5.55"/>
<circle cx="1685.6" cy="505.2" r="5.55"/>
<circle cx="1717.5" cy="505.9" r="5.55"/>
<circle cx="1721.9" cy="507.1" r="5.55"/>
<circle cx="1755.6" cy="505.2" r="5.55"/>
<circle cx="1758.1" cy="509.0" r="5.55"/>
<circle cx="1768.1" cy="506.5" r="5.55"/>
<circle cx="1779.4" cy="505.2" r="5.55"/>
<circle cx="1803.8" cy="504.6" r="5.55"/>
<circle cx="1806.9" cy="504.6" r="5.55"/>
<circle cx="1808.1" cy="505.2" r="5.55"/>
<circle cx="1817.5" cy="507.1" r="5.55"/>
<circle cx="1858.1" cy="501.5" r="5.55"/>
<circle cx="1858.8" cy="503.4" r="5.55"/>
<circle cx="1865.0" cy="500.2" r="5.55"/>
<circle cx="1863.1" cy="502.8" r="5.55"/>
<circle cx="2046.9" cy="365.9" r="5.55"/>
<circle cx="2055.6" cy="370.2" r="5.55"/>
<circle cx="2056.9" cy="384.6" r="5.55"/>
<circle cx="2038.1" cy="382.1" r="5.55"/>
<circle cx="2033.8" cy="382.8" r="5.55"/>
<circle cx="2041.2" cy="382.8" r="5.55"/>
<circle cx="2046.2" cy="388.4" r="5.55"/>
<circle cx="2026.2" cy="387.8" r="5.55"/>
<circle cx="2040.0" cy="397.8" r="5.55"/>
<circle cx="2055.0" cy="397.1" r="5.55"/>
<circle cx="2055.6" cy="404.0" r="5.55"/>
<circle cx="2036.2" cy="408.4" r="5.55"/>
<circle cx="2038.1" cy="412.1" r="5.55"/>
<circle cx="2101.2" cy="372.8" r="5.55"/>
<circle cx="2115.4" cy="374.0" r="5.55"/>
<circle cx="2162.5" cy="391.5" r="5.55"/>
<circle cx="2151.9" cy="404.6" r="5.55"/>
<circle cx="2144.0" cy="410.2" r="5.55"/>
<circle cx="2093.8" cy="422.1" r="5.55"/>
<circle cx="2106.5" cy="419.6" r="5.55"/>
<circle cx="2096.2" cy="431.5" r="5.55"/>
<circle cx="2099.6" cy="437.8" r="5.55"/>
<circle cx="2075.6" cy="427.8" r="5.55"/>
<circle cx="2077.9" cy="439.6" r="5.55"/>
<circle cx="2070.6" cy="447.1" r="5.55"/>
<circle cx="2058.8" cy="440.2" r="5.55"/>
<circle cx="2060.0" cy="441.5" r="5.55"/>
<circle cx="2044.4" cy="444.0" r="5.55"/>
<circle cx="2041.9" cy="442.8" r="5.55"/>
<circle cx="2035.0" cy="444.0" r="5.55"/>
<circle cx="2031.9" cy="450.2" r="5.55"/>
<circle cx="2055.6" cy="455.2" r="5.55"/>
<circle cx="2060.0" cy="459.6" r="5.55"/>
<circle cx="2138.1" cy="444.6" r="5.55"/>
<circle cx="2078.8" cy="485.2" r="5.55"/>
<circle cx="2075.9" cy="493.4" r="5.55"/>
<circle cx="2088.1" cy="499.0" r="5.55"/>
<circle cx="2088.8" cy="506.5" r="5.55"/>
<circle cx="2045.6" cy="505.9" r="5.55"/>
<circle cx="2038.8" cy="506.5" r="5.55"/>
<circle cx="2026.2" cy="502.1" r="5.55"/>
<circle cx="2004.4" cy="367.8" r="5.55"/>
<circle cx="1986.9" cy="373.4" r="5.55"/>
<circle cx="1986.2" cy="379.6" r="5.55"/>
<circle cx="1970.6" cy="384.0" r="5.55"/>
<circle cx="1976.2" cy="390.9" r="5.55"/>
<circle cx="2006.2" cy="382.8" r="5.55"/>
<circle cx="2006.2" cy="388.4" r="5.55"/>
<circle cx="2016.2" cy="381.5" r="5.55"/>
<circle cx="2016.2" cy="384.6" r="5.55"/>
<circle cx="2020.0" cy="372.8" r="5.55"/>
<circle cx="2023.8" cy="369.6" r="5.55"/>
<circle cx="2026.2" cy="367.8" r="5.55"/>
<circle cx="1967.5" cy="397.1" r="5.55"/>
<circle cx="1984.4" cy="394.6" r="5.55"/>
<circle cx="1986.2" cy="395.9" r="5.55"/>
<circle cx="1996.2" cy="397.8" r="5.55"/>
<circle cx="1995.0" cy="400.2" r="5.55"/>
<circle cx="2004.4" cy="405.2" r="5.55"/>
<circle cx="1985.0" cy="410.9" r="5.55"/>
<circle cx="1986.2" cy="412.1" r="5.55"/>
<circle cx="1983.1" cy="414.6" r="5.55"/>
<circle cx="2001.2" cy="412.1" r="5.55"/>
<circle cx="2003.1" cy="414.0" r="5.55"/>
<circle cx="2016.2" cy="410.9" r="5.55"/>
<circle cx="2016.9" cy="412.1" r="5.55"/>
<circle cx="1991.2" cy="419.0" r="5.55"/>
<circle cx="1995.6" cy="425.9" r="5.55"/>
<circle cx="1996.2" cy="427.1" r="5.55"/>
<circle cx="1985.0" cy="419.0" r="5.55"/>
<circle cx="1976.2" cy="427.8" r="5.55"/>
<circle cx="2023.1" cy="426.1" r="5.55"/>
<circle cx="2004.4" cy="431.5" r="5.55"/>
<circle cx="1970.0" cy="437.8" r="5.55"/>
<circle cx="1985.0" cy="437.8" r="5.55"/>
<circle cx="1992.5" cy="439.6" r="5.55"/>
<circle cx="1982.5" cy="445.9" r="5.55"/>
<circle cx="1993.1" cy="446.5" r="5.55"/>
<circle cx="1993.8" cy="447.1" r="5.55"/>
<circle cx="2025.6" cy="439.6" r="5.55"/>
<circle cx="2023.8" cy="439.0" r="5.55"/>
<circle cx="2018.1" cy="450.9" r="5.55"/>
<circle cx="2032.5" cy="446.5" r="5.55"/>
<circle cx="1976.2" cy="464.0" r="5.55"/>
<circle cx="1976.9" cy="467.8" r="5.55"/>
<circle cx="1995.6" cy="465.9" r="5.55"/>
<circle cx="1995.6" cy="469.6" r="5.55"/>
<circle cx="2023.1" cy="467.8" r="5.55"/>
<circle cx="1976.9" cy="477.1" r="5.55"/>
<circle cx="1976.2" cy="480.9" r="5.55"/>
<circle cx="1967.5" cy="472.8" r="5.55"/>
<circle cx="1968.1" cy="481.5" r="5.55"/>
<circle cx="1996.2" cy="489.0" r="5.55"/>
<circle cx="1996.2" cy="494.6" r="5.55"/>
<circle cx="1976.2" cy="492.8" r="5.55"/>
<circle cx="1976.9" cy="493.4" r="5.55"/>
<circle cx="1986.2" cy="492.8" r="5.55"/>
<circle cx="2006.2" cy="495.2" r="5.55"/>
<circle cx="2010.0" cy="503.4" r="5.55"/>
<circle cx="2000.6" cy="507.8" r="5.55"/>
<circle cx="1996.9" cy="506.5" r="5.55"/>
<circle cx="1968.1" cy="495.2" r="5.55"/>
<circle cx="1965.6" cy="507.1" r="5.55"/>
<circle cx="1888.1" cy="366.5" r="5.55"/>
<circle cx="1885.0" cy="375.9" r="5.55"/>
<circle cx="1883.8" cy="379.6" r="5.55"/>
<circle cx="1885.6" cy="382.8" r="5.55"/>
<circle cx="1898.1" cy="372.8" r="5.55"/>
<circle cx="1905.0" cy="369.0" r="5.55"/>
<circle cx="1908.1" cy="371.5" r="5.55"/>
<circle cx="1907.5" cy="377.1" r="5.55"/>
<circle cx="1911.2" cy="385.9" r="5.55"/>
<circle cx="1922.5" cy="380.2" r="5.55"/>
<circle cx="1928.8" cy="372.1" r="5.55"/>
<circle cx="1931.2" cy="371.5" r="5.55"/>
<circle cx="1933.1" cy="376.5" r="5.55"/>
<circle cx="1936.2" cy="366.5" r="5.55"/>
<circle cx="1941.2" cy="370.2" r="5.55"/>
<circle cx="1940.0" cy="379.6" r="5.55"/>
<circle cx="1936.2" cy="383.4" r="5.55"/>
<circle cx="1946.2" cy="381.5" r="5.55"/>
<circle cx="1949.4" cy="377.1" r="5.55"/>
<circle cx="1956.9" cy="370.9" r="5.55"/>
<circle cx="1956.2" cy="375.2" r="5.55"/>
<circle cx="1947.5" cy="384.0" r="5.55"/>
<circle cx="1888.1" cy="392.1" r="5.55"/>
<circle cx="1887.5" cy="397.8" r="5.55"/>
<circle cx="1886.9" cy="400.9" r="5.55"/>
<circle cx="1880.0" cy="399.0" r="5.55"/>
<circle cx="1906.9" cy="397.8" r="5.55"/>
<circle cx="1898.1" cy="405.9" r="5.55"/>
<circle cx="1936.2" cy="392.8" r="5.55"/>
<circle cx="1938.8" cy="394.6" r="5.55"/>
<circle cx="1933.1" cy="397.1" r="5.55"/>
<circle cx="1943.1" cy="394.0" r="5.55"/>
<circle cx="1945.0" cy="394.6" r="5.55"/>
<circle cx="1933.8" cy="401.5" r="5.55"/>
<circle cx="1936.9" cy="404.6" r="5.55"/>
<circle cx="1921.2" cy="402.8" r="5.55"/>
<circle cx="1917.5" cy="406.5" r="5.55"/>
<circle cx="1926.9" cy="406.5" r="5.55"/>
<circle cx="1874.4" cy="415.9" r="5.55"/>
<circle cx="1878.1" cy="425.2" r="5.55"/>
<circle cx="1891.2" cy="417.1" r="5.55"/>
<circle cx="1896.9" cy="420.9" r="5.55"/>
<circle cx="1897.5" cy="422.1" r="5.55"/>
<circle cx="1908.1" cy="412.8" r="5.55"/>
<circle cx="1916.2" cy="419.0" r="5.55"/>
<circle cx="1916.9" cy="421.5" r="5.55"/>
<circle cx="1916.2" cy="422.8" r="5.55"/>
<circle cx="1915.6" cy="426.5" r="5.55"/>
<circle cx="1923.8" cy="419.0" r="5.55"/>
<circle cx="1926.9" cy="425.2" r="5.55"/>
<circle cx="1941.2" cy="412.1" r="5.55"/>
<circle cx="1946.9" cy="415.2" r="5.55"/>
<circle cx="1939.4" cy="419.6" r="5.55"/>
<circle cx="1949.4" cy="421.5" r="5.55"/>
<circle cx="1950.0" cy="424.0" r="5.55"/>
<circle cx="1916.9" cy="429.0" r="5.55"/>
<circle cx="1921.2" cy="429.0" r="5.55"/>
<circle cx="1870.6" cy="439.0" r="5.55"/>
<circle cx="1867.5" cy="449.6" r="5.55"/>
<circle cx="1885.6" cy="437.1" r="5.55"/>
<circle cx="1886.9" cy="440.2" r="5.55"/>
<circle cx="1906.2" cy="431.5" r="5.55"/>
<circle cx="1908.8" cy="432.1" r="5.55"/>
<circle cx="1916.2" cy="438.4" r="5.55"/>
<circle cx="1917.5" cy="439.6" r="5.55"/>
<circle cx="1925.6" cy="438.4" r="5.55"/>
<circle cx="1933.8" cy="442.1" r="5.55"/>
<circle cx="1947.5" cy="438.4" r="5.55"/>
<circle cx="1948.1" cy="444.0" r="5.55"/>
<circle cx="1953.8" cy="441.5" r="5.55"/>
<circle cx="1955.0" cy="444.0" r="5.55"/>
<circle cx="1962.5" cy="435.9" r="5.55"/>
<circle cx="1969.4" cy="441.5" r="5.55"/>
<circle cx="1967.5" cy="444.0" r="5.55"/>
<circle cx="1965.0" cy="450.2" r="5.55"/>
<circle cx="1887.5" cy="451.5" r="5.55"/>
<circle cx="1900.6" cy="453.4" r="5.55"/>
<circle cx="1910.6" cy="455.2" r="5.55"/>
<circle cx="1945.0" cy="455.2" r="5.55"/>
<circle cx="1936.9" cy="458.4" r="5.55"/>
<circle cx="1879.4" cy="462.8" r="5.55"/>
<circle cx="1886.9" cy="467.8" r="5.55"/>
<circle cx="1888.1" cy="469.0" r="5.55"/>
<circle cx="1895.6" cy="460.2" r="5.55"/>
<circle cx="1899.4" cy="460.9" r="5.55"/>
<circle cx="1901.2" cy="464.0" r="5.55"/>
<circle cx="1903.8" cy="467.8" r="5.55"/>
<circle cx="1906.2" cy="467.8" r="5.55"/>
<circle cx="1898.1" cy="472.8" r="5.55"/>
<circle cx="1896.2" cy="474.0" r="5.55"/>
<circle cx="1918.8" cy="465.9" r="5.55"/>
<circle cx="1919.4" cy="472.1" r="5.55"/>
<circle cx="1928.8" cy="469.0" r="5.55"/>
<circle cx="1930.0" cy="470.9" r="5.55"/>
<circle cx="1933.1" cy="462.8" r="5.55"/>
<circle cx="1940.0" cy="462.8" r="5.55"/>
<circle cx="1942.5" cy="467.8" r="5.55"/>
<circle cx="1945.0" cy="471.5" r="5.55"/>
<circle cx="1938.8" cy="471.5" r="5.55"/>
<circle cx="1956.9" cy="461.5" r="5.55"/>
<circle cx="1958.1" cy="465.9" r="5.55"/>
<circle cx="1959.4" cy="467.8" r="5.55"/>
<circle cx="1874.4" cy="480.2" r="5.55"/>
<circle cx="1872.5" cy="486.5" r="5.55"/>
<circle cx="1883.8" cy="489.6" r="5.55"/>
<circle cx="1894.4" cy="477.8" r="5.55"/>
<circle cx="1895.6" cy="480.2" r="5.55"/>
<circle cx="1905.0" cy="478.4" r="5.55"/>
<circle cx="1896.2" cy="487.1" r="5.55"/>
<circle cx="1895.0" cy="492.1" r="5.55"/>
<circle cx="1911.9" cy="490.9" r="5.55"/>
<circle cx="1916.9" cy="485.9" r="5.55"/>
<circle cx="1917.5" cy="490.9" r="5.55"/>
<circle cx="1925.6" cy="487.8" r="5.55"/>
<circle cx="1935.0" cy="477.1" r="5.55"/>
<circle cx="1939.4" cy="480.2" r="5.55"/>
<circle cx="1945.0" cy="479.0" r="5.55"/>
<circle cx="1948.1" cy="482.8" r="5.55"/>
<circle cx="1940.0" cy="487.1" r="5.55"/>
<circle cx="1950.0" cy="486.5" r="5.55"/>
<circle cx="1957.5" cy="483.4" r="5.55"/>
<circle cx="1960.0" cy="485.9" r="5.55"/>
<circle cx="1966.2" cy="482.8" r="5.55"/>
<circle cx="1876.2" cy="496.5" r="5.55"/>
<circle cx="1875.0" cy="499.0" r="5.55"/>
<circle cx="1894.4" cy="495.2" r="5.55"/>
<circle cx="1896.2" cy="502.8" r="5.55"/>
<circle cx="1916.9" cy="495.9" r="5.55"/>
<circle cx="1915.6" cy="504.6" r="5.55"/>
<circle cx="1926.9" cy="498.4" r="5.55"/>
<circle cx="1928.8" cy="501.5" r="5.55"/>
<circle cx="1945.0" cy="492.1" r="5.55"/>
<circle cx="1948.8" cy="499.6" r="5.55"/>
<circle cx="1951.2" cy="504.0" r="5.55"/>
<circle cx="1947.5" cy="509.6" r="5.55"/>
<circle cx="1871.2" cy="506.5" r="5.55"/>
<circle cx="1873.8" cy="510.2" r="5.55"/>
<circle cx="1877.5" cy="512.8" r="5.55"/>
<circle cx="1887.5" cy="509.6" r="5.55"/>
<circle cx="1893.8" cy="510.2" r="5.55"/>
<circle cx="1867.5" cy="507.8" r="5.55"/>
<circle cx="1866.2" cy="513.4" r="5.55"/>
<circle cx="2171.2" cy="384.0" r="5.55"/>
<circle cx="1958.8" cy="223.8" r="5.55"/>
<circle cx="1958.8" cy="230.9" r="5.55"/>
<circle cx="2004.4" cy="229.6" r="5.55"/>
<circle cx="2016.0" cy="217.1" r="5.55"/>
<circle cx="2057.9" cy="218.8" r="5.55"/>
<circle cx="2066.9" cy="230.2" r="5.55"/>
<circle cx="2055.9" cy="237.8" r="5.55"/>
<circle cx="2055.6" cy="246.5" r="5.55"/>
<circle cx="2026.2" cy="249.0" r="5.55"/>
<circle cx="2036.9" cy="249.6" r="5.55"/>
<circle cx="2095.6" cy="214.0" r="5.55"/>
<circle cx="2120.0" cy="216.5" r="5.55"/>
<circle cx="2138.8" cy="219.6" r="5.55"/>
<circle cx="2149.4" cy="217.1" r="5.55"/>
<circle cx="2105.6" cy="233.4" r="5.55"/>
<circle cx="2105.6" cy="242.1" r="5.55"/>
<circle cx="2125.4" cy="233.4" r="5.55"/>
<circle cx="2131.2" cy="243.4" r="5.55"/>
<circle cx="2147.2" cy="242.1" r="5.55"/>
<circle cx="2164.4" cy="232.1" r="5.55"/>
<circle cx="2071.9" cy="249.6" r="5.55"/>
<circle cx="1893.1" cy="262.4" r="5.55"/>
<circle cx="1916.9" cy="260.2" r="5.55"/>
<circle cx="1934.6" cy="263.6" r="5.55"/>
<circle cx="1915.0" cy="273.8" r="5.55"/>
<circle cx="1932.9" cy="275.0" r="5.55"/>
<circle cx="1990.4" cy="254.6" r="5.55"/>
<circle cx="2006.2" cy="259.6" r="5.55"/>
<circle cx="2058.8" cy="260.2" r="5.55"/>
<circle cx="2075.6" cy="257.1" r="5.55"/>
<circle cx="2111.2" cy="261.2" r="5.55"/>
<circle cx="2135.4" cy="262.5" r="5.55"/>
<circle cx="2138.1" cy="269.0" r="5.55"/>
<circle cx="2156.9" cy="267.1" r="5.55"/>
<circle cx="2157.5" cy="275.2" r="5.55"/>
<circle cx="2150.0" cy="276.5" r="5.55"/>
<circle cx="2027.1" cy="272.4" r="5.55"/>
<circle cx="2057.9" cy="273.0" r="5.55"/>
<circle cx="2097.5" cy="272.5" r="5.55"/>
<circle cx="1997.5" cy="278.4" r="5.55"/>
<circle cx="2085.6" cy="277.1" r="5.55"/>
<circle cx="2098.5" cy="280.9" r="5.55"/>
<circle cx="1966.5" cy="281.5" r="5.55"/>
<circle cx="1915.9" cy="289.6" r="5.55"/>
<circle cx="1920.9" cy="297.4" r="5.55"/>
<circle cx="1936.6" cy="292.8" r="5.55"/>
<circle cx="2030.0" cy="285.9" r="5.55"/>
<circle cx="2026.2" cy="290.9" r="5.55"/>
<circle cx="2036.2" cy="291.8" r="5.55"/>
<circle cx="2063.8" cy="283.4" r="5.55"/>
<circle cx="2062.5" cy="286.5" r="5.55"/>
<circle cx="2075.6" cy="285.9" r="5.55"/>
<circle cx="2057.9" cy="296.5" r="5.55"/>
<circle cx="2087.9" cy="296.5" r="5.55"/>
<circle cx="2108.1" cy="295.2" r="5.55"/>
<circle cx="2121.2" cy="299.2" r="5.55"/>
<circle cx="1986.0" cy="298.4" r="5.55"/>
<circle cx="1986.9" cy="299.0" r="5.55"/>
<circle cx="2010.6" cy="295.9" r="5.55"/>
<circle cx="2016.9" cy="295.9" r="5.55"/>
<circle cx="2007.5" cy="300.2" r="5.55"/>
<circle cx="2006.2" cy="302.8" r="5.55"/>
<circle cx="2008.1" cy="304.6" r="5.55"/>
<circle cx="2002.5" cy="309.0" r="5.55"/>
<circle cx="2000.6" cy="308.4" r="5.55"/>
<circle cx="1946.6" cy="310.9" r="5.55"/>
<circle cx="1946.9" cy="312.1" r="5.55"/>
<circle cx="2068.1" cy="305.5" r="5.55"/>
<circle cx="2086.2" cy="307.1" r="5.55"/>
<circle cx="2087.2" cy="307.8" r="5.55"/>
<circle cx="1986.2" cy="315.2" r="5.55"/>
<circle cx="1996.6" cy="321.2" r="5.55"/>
<circle cx="2050.0" cy="314.0" r="5.55"/>
<circle cx="2071.9" cy="314.6" r="5.55"/>
<circle cx="2107.5" cy="312.8" r="5.55"/>
<circle cx="2096.9" cy="317.8" r="5.55"/>
<circle cx="2086.9" cy="322.1" r="5.55"/>
<circle cx="2087.5" cy="322.8" r="5.55"/>
<circle cx="2033.1" cy="324.6" r="5.55"/>
<circle cx="2054.1" cy="325.6" r="5.55"/>
<circle cx="2096.9" cy="327.1" r="5.55"/>
<circle cx="2115.6" cy="324.0" r="5.55"/>
<circle cx="2127.5" cy="322.1" r="5.55"/>
<circle cx="2131.9" cy="320.9" r="5.55"/>
<circle cx="2139.4" cy="326.9" r="5.55"/>
<circle cx="1907.1" cy="329.6" r="5.55"/>
<circle cx="1943.8" cy="326.9" r="5.55"/>
<circle cx="1953.8" cy="326.5" r="5.55"/>
<circle cx="1967.8" cy="326.8" r="5.55"/>
<circle cx="1990.4" cy="330.6" r="5.55"/>
<circle cx="2075.6" cy="328.8" r="5.55"/>
<circle cx="2065.9" cy="331.8" r="5.55"/>
<circle cx="2037.2" cy="334.0" r="5.55"/>
<circle cx="2050.9" cy="335.9" r="5.55"/>
<circle cx="2086.2" cy="333.4" r="5.55"/>
<circle cx="2085.6" cy="334.6" r="5.55"/>
<circle cx="2087.5" cy="337.1" r="5.55"/>
<circle cx="2119.4" cy="334.0" r="5.55"/>
<circle cx="2132.5" cy="339.0" r="5.55"/>
<circle cx="2131.9" cy="339.6" r="5.55"/>
<circle cx="2032.1" cy="341.5" r="5.55"/>
<circle cx="2006.2" cy="341.5" r="5.55"/>
<circle cx="2067.9" cy="342.8" r="5.55"/>
<circle cx="2122.5" cy="344.6" r="5.55"/>
<circle cx="2096.2" cy="345.9" r="5.55"/>
<circle cx="2094.4" cy="348.4" r="5.55"/>
<circle cx="2085.6" cy="349.6" r="5.55"/>
<circle cx="2122.5" cy="350.2" r="5.55"/>
<circle cx="2060.0" cy="350.9" r="5.55"/>
<circle cx="1936.6" cy="342.8" r="5.55"/>
<circle cx="1929.6" cy="349.0" r="5.55"/>
<circle cx="1952.5" cy="347.1" r="5.55"/>
<circle cx="1950.0" cy="347.8" r="5.55"/>
<circle cx="1946.9" cy="353.4" r="5.55"/>
<circle cx="1967.8" cy="352.1" r="5.55"/>
<circle cx="2006.2" cy="347.1" r="5.55"/>
<circle cx="2026.2" cy="349.6" r="5.55"/>
<circle cx="2020.6" cy="350.9" r="5.55"/>
<circle cx="2016.2" cy="352.8" r="5.55"/>
<circle cx="1916.9" cy="359.0" r="5.55"/>
<circle cx="1967.8" cy="359.6" r="5.55"/>
<circle cx="2006.2" cy="355.2" r="5.55"/>
<circle cx="2006.2" cy="362.1" r="5.55"/>
<circle cx="1996.2" cy="362.8" r="5.55"/>
<circle cx="2028.1" cy="362.8" r="5.55"/>
<circle cx="2099.4" cy="358.4" r="5.55"/>
<circle cx="2107.5" cy="359.0" r="5.55"/>
<circle cx="2098.1" cy="363.4" r="5.55"/>
<circle cx="2124.4" cy="362.8" r="5.55"/>
<circle cx="1905.0" cy="364.0" r="5.55"/>
<circle cx="2194.4" cy="215.2" r="5.55"/>
<circle cx="2194.6" cy="215.9" r="5.55"/>
<circle cx="2194.6" cy="228.0" r="5.55"/>
<circle cx="2204.0" cy="232.8" r="5.55"/>
<circle cx="2205.9" cy="241.1" r="5.55"/>
<circle cx="2233.5" cy="257.4" r="5.55"/>
<circle cx="2195.9" cy="274.4" r="5.55"/>
<circle cx="2175.0" cy="290.5" r="5.55"/>
<circle cx="2180.0" cy="302.1" r="5.55"/>
<circle cx="2189.0" cy="322.5" r="5.55"/>
<circle cx="2175.0" cy="339.6" r="5.55"/>
<circle cx="2337.8" cy="229.6" r="5.55"/>
<circle cx="1958.8" cy="174.0" r="5.55"/>
<circle cx="2075.9" cy="149.6" r="5.55"/>
<circle cx="2099.6" cy="143.6" r="5.55"/>
<circle cx="2140.2" cy="147.5" r="5.55"/>
<circle cx="2161.9" cy="103.4" r="5.55"/>
<circle cx="2161.2" cy="155.9" r="5.55"/>
<circle cx="2122.2" cy="180.5" r="5.55"/>
<circle cx="2095.6" cy="199.4" r="5.55"/>
<circle cx="2085.6" cy="203.4" r="5.55"/>
<circle cx="2125.4" cy="201.9" r="5.55"/>
<circle cx="2134.1" cy="205.9" r="5.55"/>
<circle cx="2156.2" cy="206.5" r="5.55"/>
<circle cx="2303.9" cy="78.7" r="5.55"/>
<circle cx="2298.9" cy="85.0" r="5.55"/>
<circle cx="2215.4" cy="91.8" r="5.55"/>
<circle cx="2228.5" cy="91.0" r="5.55"/>
<circle cx="2174.8" cy="102.1" r="5.55"/>
<circle cx="2270.2" cy="113.7" r="5.55"/>
<circle cx="2256.3" cy="127.4" r="5.55"/>
<circle cx="2319.8" cy="128.5" r="5.55"/>
<circle cx="2314.0" cy="144.7" r="5.55"/>
<circle cx="2322.0" cy="157.7" r="5.55"/>
<circle cx="2257.2" cy="152.7" r="5.55"/>
<circle cx="2264.3" cy="155.3" r="5.55"/>
<circle cx="2204.8" cy="193.3" r="5.55"/>
<circle cx="2177.0" cy="200.2" r="5.55"/>
<circle cx="2188.9" cy="200.7" r="5.55"/>
<circle cx="2261.4" cy="192.3" r="5.55"/>
<circle cx="2253.4" cy="201.0" r="5.55"/>
<circle cx="2231.4" cy="207.1" r="5.55"/>
<circle cx="1903.1" cy="678.4" r="5.55"/>
<circle cx="1907.1" cy="681.5" r="5.55"/>
<circle cx="1887.2" cy="697.4" r="5.55"/>
<circle cx="1891.0" cy="705.0" r="5.55"/>
<circle cx="1928.9" cy="707.5" r="5.55"/>
<circle cx="1973.5" cy="711.9" r="5.55"/>
<circle cx="1616.0" cy="663.2" r="5.55"/>
<circle cx="1678.5" cy="658.5" r="5.55"/>
<circle cx="1630.5" cy="689.5" r="5.55"/>
<circle cx="1778.5" cy="588.2" r="5.55"/>
<circle cx="1652.2" cy="609.0" r="5.55"/>
<circle cx="1812.2" cy="536.5" r="5.55"/>
<circle cx="1814.8" cy="557.8" r="5.55"/>
<circle cx="1856.0" cy="519.0" r="5.55"/>
<circle cx="1858.0" cy="517.5" r="5.55"/>
<circle cx="1897.2" cy="421.0" r="5.55"/>
<circle cx="1896.8" cy="421.8" r="5.55"/>
<circle cx="1952.2" cy="442.8" r="5.55"/>
<circle cx="1887.2" cy="469.0" r="5.55"/>
<circle cx="1993.5" cy="446.5" r="5.55"/>
<circle cx="1929.8" cy="470.2" r="5.55"/>
<circle cx="1976.0" cy="492.8" r="5.55"/>
<circle cx="1871.0" cy="511.5" r="5.55"/>
<circle cx="1868.5" cy="509.0" r="5.55"/>
</g></g>
</svg></body></html>
